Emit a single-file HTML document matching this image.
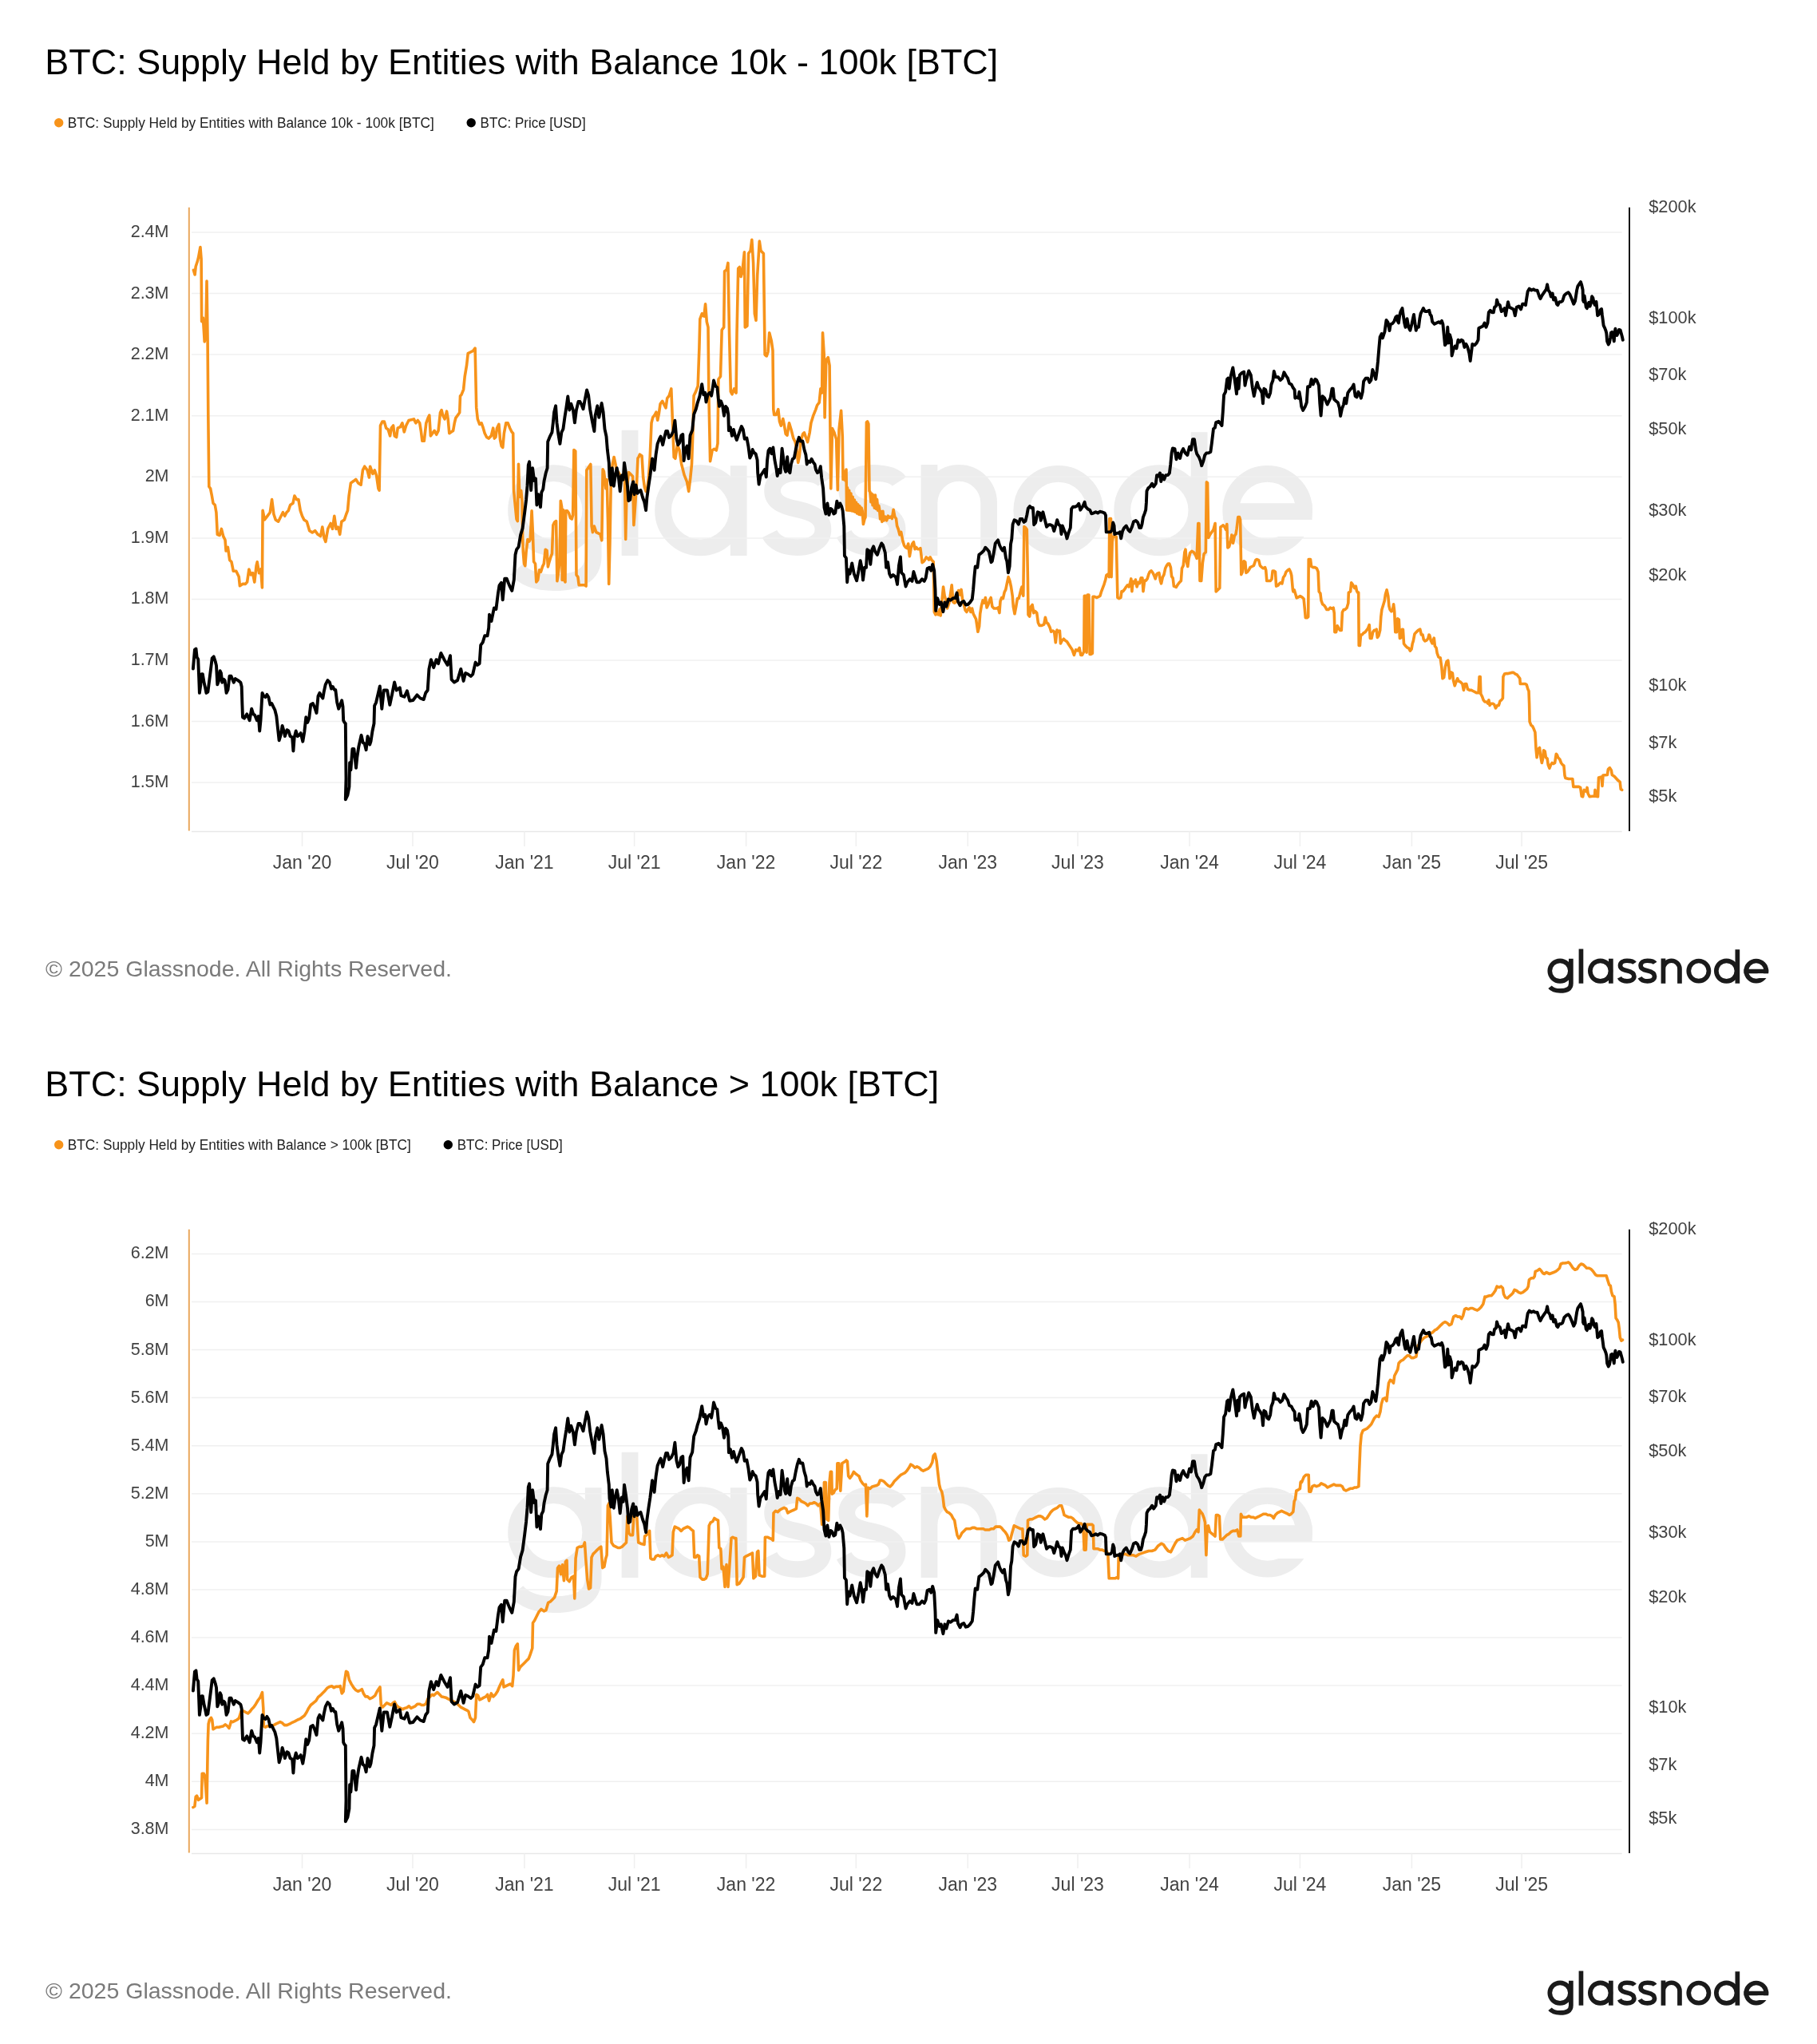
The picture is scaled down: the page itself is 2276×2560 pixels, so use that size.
<!DOCTYPE html><html><head><meta charset="utf-8"><style>
html,body{margin:0;padding:0;background:#fff;}
svg{display:block;will-change:transform;}
text{font-family:"Liberation Sans", sans-serif;}
</style></head><body>
<svg width="2276" height="2560" viewBox="0 0 2276 2560" xmlns="http://www.w3.org/2000/svg">
<defs><clipPath id="eclip" clipPathUnits="userSpaceOnUse"><path clip-rule="evenodd" d="M240,-50 H290 V20 H240 Z M263.2,-12.35 H290 V-6.6 H263.2 Z"/></clipPath><g id="logo"><g stroke-width="5.7" stroke-linecap="butt"><circle cx="15.7" cy="-15.6" r="12.8"/><path d="M29.45,-31 V0 C29.45,7 24,9.25 16,9.25 C10,9.25 5.5,7.5 3.1,4.6"/><path d="M42.05,-43.2 V0"/><circle cx="66.25" cy="-15.6" r="12.8"/><path d="M79.45,-31 V0"/><path d="M109.1,-25.5 C107.6,-27.8 104.1,-28.45 99.6,-28.45 C94.6,-28.45 91.1,-26 91.1,-22.3 C91.1,-18.5 94.6,-17 99.6,-16 C105.1,-14.8 108.5,-13.2 108.5,-9 C108.5,-5 104.6,-2.85 99.6,-2.85 C95.1,-2.85 91.6,-4.5 90.1,-7.5"/><path d="M134.7,-25.5 C133.2,-27.8 129.7,-28.45 125.2,-28.45 C120.2,-28.45 116.7,-26 116.7,-22.3 C116.7,-18.5 120.2,-17 125.2,-16 C130.7,-14.8 134.1,-13.2 134.1,-9 C134.1,-5 130.2,-2.85 125.2,-2.85 C120.7,-2.85 117.2,-4.5 115.7,-7.5"/><path d="M145.05,-31.3 V0 M145.05,-18.2 A10.25,10.25 0 0 1 165.55,-18.2 V0"/><circle cx="189.45" cy="-15.6" r="12.6"/><circle cx="224.25" cy="-15.6" r="12.8"/><path d="M237.95,-42.5 V0"/><g clip-path="url(#eclip)"><circle cx="261.45" cy="-15.6" r="12.6"/><path d="M246.1,-15.2 H276.8"/></g></g>
</g></defs>
<rect width="2276" height="2560" fill="#fff"/>
<text x="56.3" y="92.8" font-size="44.9" fill="#000" textLength="1194.0" lengthAdjust="spacingAndGlyphs">BTC: Supply Held by Entities with Balance 10k - 100k [BTC]</text>
<circle cx="73.7" cy="153.8" r="5.7" fill="#f7931a"/>
<text x="84.8" y="160" font-size="17.6" fill="#222" textLength="459" lengthAdjust="spacingAndGlyphs">BTC: Supply Held by Entities with Balance 10k - 100k [BTC]</text>
<circle cx="590.2" cy="153.8" r="5.7" fill="#000"/>
<text x="601.6" y="160" font-size="17.6" fill="#222" textLength="132" lengthAdjust="spacingAndGlyphs">BTC: Price [USD]</text>
<use href="#logo" transform="translate(636,696) scale(3.64)" fill="none" stroke="#ededed"/>
<line x1="240" x2="2031.5" y1="291.0" y2="291.0" stroke="#f0f0f0" stroke-width="1.5"/>
<text x="211.5" y="296.9" font-size="21.5" fill="#424242" text-anchor="end">2.4M</text>
<line x1="240" x2="2031.5" y1="367.6" y2="367.6" stroke="#f0f0f0" stroke-width="1.5"/>
<text x="211.5" y="373.5" font-size="21.5" fill="#424242" text-anchor="end">2.3M</text>
<line x1="240" x2="2031.5" y1="444.1" y2="444.1" stroke="#f0f0f0" stroke-width="1.5"/>
<text x="211.5" y="450.0" font-size="21.5" fill="#424242" text-anchor="end">2.2M</text>
<line x1="240" x2="2031.5" y1="520.7" y2="520.7" stroke="#f0f0f0" stroke-width="1.5"/>
<text x="211.5" y="526.6" font-size="21.5" fill="#424242" text-anchor="end">2.1M</text>
<line x1="240" x2="2031.5" y1="597.3" y2="597.3" stroke="#f0f0f0" stroke-width="1.5"/>
<text x="211.5" y="603.2" font-size="21.5" fill="#424242" text-anchor="end">2M</text>
<line x1="240" x2="2031.5" y1="673.9" y2="673.9" stroke="#f0f0f0" stroke-width="1.5"/>
<text x="211.5" y="679.8" font-size="21.5" fill="#424242" text-anchor="end">1.9M</text>
<line x1="240" x2="2031.5" y1="750.4" y2="750.4" stroke="#f0f0f0" stroke-width="1.5"/>
<text x="211.5" y="756.3" font-size="21.5" fill="#424242" text-anchor="end">1.8M</text>
<line x1="240" x2="2031.5" y1="827.0" y2="827.0" stroke="#f0f0f0" stroke-width="1.5"/>
<text x="211.5" y="832.9" font-size="21.5" fill="#424242" text-anchor="end">1.7M</text>
<line x1="240" x2="2031.5" y1="903.6" y2="903.6" stroke="#f0f0f0" stroke-width="1.5"/>
<text x="211.5" y="909.5" font-size="21.5" fill="#424242" text-anchor="end">1.6M</text>
<line x1="240" x2="2031.5" y1="980.1" y2="980.1" stroke="#f0f0f0" stroke-width="1.5"/>
<text x="211.5" y="986.0" font-size="21.5" fill="#424242" text-anchor="end">1.5M</text>
<line x1="240" x2="2031.6" y1="1041.4" y2="1041.4" stroke="#e8e8e8" stroke-width="1.5"/>
<line x1="378.5" x2="378.5" y1="1041.2" y2="1060" stroke="#efefef" stroke-width="1.5"/>
<text x="378.5" y="1087.8" font-size="23" fill="#424242" text-anchor="middle">Jan '20</text>
<line x1="517.0" x2="517.0" y1="1041.2" y2="1060" stroke="#efefef" stroke-width="1.5"/>
<text x="517.0" y="1087.8" font-size="23" fill="#424242" text-anchor="middle">Jul '20</text>
<line x1="656.9" x2="656.9" y1="1041.2" y2="1060" stroke="#efefef" stroke-width="1.5"/>
<text x="656.9" y="1087.8" font-size="23" fill="#424242" text-anchor="middle">Jan '21</text>
<line x1="794.6" x2="794.6" y1="1041.2" y2="1060" stroke="#efefef" stroke-width="1.5"/>
<text x="794.6" y="1087.8" font-size="23" fill="#424242" text-anchor="middle">Jul '21</text>
<line x1="934.6" x2="934.6" y1="1041.2" y2="1060" stroke="#efefef" stroke-width="1.5"/>
<text x="934.6" y="1087.8" font-size="23" fill="#424242" text-anchor="middle">Jan '22</text>
<line x1="1072.3" x2="1072.3" y1="1041.2" y2="1060" stroke="#efefef" stroke-width="1.5"/>
<text x="1072.3" y="1087.8" font-size="23" fill="#424242" text-anchor="middle">Jul '22</text>
<line x1="1212.3" x2="1212.3" y1="1041.2" y2="1060" stroke="#efefef" stroke-width="1.5"/>
<text x="1212.3" y="1087.8" font-size="23" fill="#424242" text-anchor="middle">Jan '23</text>
<line x1="1350.0" x2="1350.0" y1="1041.2" y2="1060" stroke="#efefef" stroke-width="1.5"/>
<text x="1350.0" y="1087.8" font-size="23" fill="#424242" text-anchor="middle">Jul '23</text>
<line x1="1490.0" x2="1490.0" y1="1041.2" y2="1060" stroke="#efefef" stroke-width="1.5"/>
<text x="1490.0" y="1087.8" font-size="23" fill="#424242" text-anchor="middle">Jan '24</text>
<line x1="1628.4" x2="1628.4" y1="1041.2" y2="1060" stroke="#efefef" stroke-width="1.5"/>
<text x="1628.4" y="1087.8" font-size="23" fill="#424242" text-anchor="middle">Jul '24</text>
<line x1="1768.4" x2="1768.4" y1="1041.2" y2="1060" stroke="#efefef" stroke-width="1.5"/>
<text x="1768.4" y="1087.8" font-size="23" fill="#424242" text-anchor="middle">Jan '25</text>
<line x1="1906.1" x2="1906.1" y1="1041.2" y2="1060" stroke="#efefef" stroke-width="1.5"/>
<text x="1906.1" y="1087.8" font-size="23" fill="#424242" text-anchor="middle">Jul '25</text>
<text x="2065.2" y="266.4" font-size="21.8" fill="#424242">$200k</text>
<text x="2065.2" y="405.0" font-size="21.8" fill="#424242">$100k</text>
<text x="2065.2" y="476.3" font-size="21.8" fill="#424242">$70k</text>
<text x="2065.2" y="543.5" font-size="21.8" fill="#424242">$50k</text>
<text x="2065.2" y="645.6" font-size="21.8" fill="#424242">$30k</text>
<text x="2065.2" y="726.7" font-size="21.8" fill="#424242">$20k</text>
<text x="2065.2" y="865.3" font-size="21.8" fill="#424242">$10k</text>
<text x="2065.2" y="936.6" font-size="21.8" fill="#424242">$7k</text>
<text x="2065.2" y="1003.8" font-size="21.8" fill="#424242">$5k</text>
<line x1="236.8" x2="236.8" y1="259.8" y2="1040.6" stroke="#e9a85c" stroke-width="2"/>
<line x1="2041" x2="2041" y1="259.7" y2="1041" stroke="#141414" stroke-width="2"/>
<path d="M242.4,338.3 L244.1,344.0 L245.2,333.7 L247.5,326.8 L248.6,322.2 L250.9,309.5 L252.1,324.5 L252.6,402.6 L254.4,398.1 L256.2,427.9 L257.8,418.7 L259.0,352.1 L260.1,427.9 L260.8,519.9 L261.8,609.5 L263.6,611.8 L265.4,621.0 L267.0,630.2 L269.3,632.5 L270.9,641.7 L272.3,669.3 L275.1,670.5 L277.4,662.4 L279.7,671.6 L282.0,676.2 L283.1,690.0 L285.4,685.4 L287.7,701.5 L290.0,703.8 L292.3,715.3 L295.8,715.3 L299.2,722.2 L300.4,733.7 L303.8,731.4 L307.3,731.4 L309.6,729.1 L311.9,713.0 L314.2,719.9 L316.5,717.6 L318.8,729.1 L321.1,708.4 L322.2,703.8 L324.5,717.6 L326.8,713.0 L328.4,736.0 L329.1,639.4 L331.4,650.9 L334.9,646.3 L338.3,641.7 L340.6,625.6 L342.9,644.0 L345.2,650.9 L348.6,653.2 L352.1,646.3 L354.4,641.7 L356.7,646.3 L359.0,641.7 L361.3,639.4 L363.6,632.5 L367.0,630.2 L368.9,621.0 L371.6,625.6 L373.9,625.6 L376.2,639.4 L378.5,646.3 L380.8,650.9 L384.3,653.2 L387.7,664.7 L391.2,667.0 L394.6,664.7 L398.1,669.3 L401.5,671.6 L403.8,660.1 L406.1,673.9 L407.9,678.5 L410.7,662.4 L414.2,655.5 L416.5,662.4 L418.8,646.3 L421.1,662.4 L423.4,660.1 L425.7,669.3 L427.9,653.2 L431.4,650.9 L433.7,644.0 L435.5,639.4 L437.1,621.0 L439.4,604.9 L442.9,602.6 L445.7,600.3 L448.6,604.9 L452.1,607.2 L454.4,588.9 L456.7,584.2 L460.1,588.9 L462.4,598.0 L463.6,584.2 L467.0,593.5 L469.3,588.9 L471.6,595.8 L473.9,611.8 L475.1,614.1 L476.5,533.0 L478.9,528.1 L481.3,528.1 L483.7,536.2 L486.1,537.8 L488.6,545.9 L490.2,536.2 L492.6,533.0 L494.2,545.9 L496.6,547.5 L498.2,536.2 L501.5,534.6 L503.9,529.8 L506.3,541.0 L508.7,533.0 L512.0,526.5 L515.2,525.7 L518.4,524.9 L520.8,529.8 L523.3,526.5 L525.7,529.8 L527.3,539.4 L528.9,552.3 L531.3,552.3 L533.8,529.8 L536.2,523.3 L537.8,520.1 L539.4,545.9 L541.8,542.7 L544.2,539.4 L546.7,544.3 L549.1,539.4 L551.5,516.8 L553.1,513.6 L554.7,520.1 L557.1,524.9 L559.6,515.2 L561.2,524.9 L562.8,542.7 L565.2,541.0 L567.6,539.4 L569.3,529.8 L570.9,523.3 L573.3,520.1 L575.7,516.8 L576.5,495.9 L578.1,494.2 L580.6,487.8 L582.2,471.6 L584.6,457.1 L586.2,442.6 L589.4,441.0 L592.7,439.4 L595.1,436.1 L596.7,510.4 L598.3,524.9 L600.7,531.4 L603.1,529.8 L604.8,534.6 L607.2,542.7 L609.6,547.5 L612.0,549.1 L615.3,545.9 L617.7,536.2 L619.3,549.1 L620.9,547.5 L622.5,536.2 L624.9,531.4 L626.5,550.7 L628.2,558.8 L629.8,560.4 L631.4,542.7 L633.8,529.8 L636.2,529.8 L638.7,536.2 L641.1,541.0 L642.7,542.7 L643.5,613.7 L647.0,650.1 L648.3,652.6 L649.5,581.4 L650.8,622.1 L652.7,614.5 L654.0,627.2 L654.6,671.7 L655.3,690.8 L656.5,706.0 L657.8,708.6 L659.1,690.8 L661.0,675.5 L662.9,678.1 L664.2,675.5 L666.1,639.9 L667.3,665.3 L668.6,703.5 L670.5,706.0 L671.8,728.9 L673.7,726.4 L675.6,713.7 L677.5,716.2 L679.4,709.9 L681.3,706.0 L683.2,688.2 L685.1,689.5 L686.4,709.9 L687.7,704.8 L689.6,698.4 L691.5,693.3 L692.8,657.7 L694.7,653.9 L696.6,652.6 L697.9,727.7 L699.1,720.0 L701.0,703.5 L702.3,627.2 L703.6,634.8 L704.2,726.4 L705.5,638.6 L706.8,726.4 L708.0,728.9 L708.7,639.9 L710.6,639.9 L712.5,642.5 L714.4,648.8 L716.3,650.1 L717.6,645.0 L718.9,563.6 L720.8,564.9 L722.0,720.0 L723.9,722.6 L725.2,732.8 L729.0,732.8 L732.2,732.8 L734.1,734.0 L734.8,589.0 L737.3,585.2 L739.8,581.4 L741.1,659.0 L742.4,666.6 L744.3,659.0 L746.8,666.6 L749.4,667.9 L751.9,669.2 L753.8,676.8 L755.1,587.8 L756.4,590.3 L757.6,600.5 L758.9,611.9 L760.2,600.5 L761.5,652.6 L762.7,731.5 L764.0,678.1 L765.3,601.8 L767.2,581.4 L769.1,572.5 L771.0,581.4 L772.3,589.0 L774.8,591.6 L777.4,596.7 L779.9,596.7 L782.5,599.2 L783.7,675.5 L785.0,614.5 L787.5,591.6 L790.1,594.1 L792.6,596.7 L793.9,657.7 L795.2,639.9 L797.7,601.8 L799.0,573.8 L800.0,572.5 L801.4,569.2 L804.0,570.9 L805.7,598.3 L807.4,610.3 L809.1,615.4 L810.8,612.0 L812.5,598.3 L814.2,572.6 L816.0,529.8 L817.7,522.9 L820.2,519.5 L822.0,516.1 L823.7,526.3 L825.4,517.8 L827.1,505.8 L829.7,502.4 L832.2,507.5 L834.0,510.9 L835.7,498.9 L838.2,495.5 L840.8,486.9 L842.5,529.8 L844.2,572.6 L845.9,574.3 L848.5,557.2 L851.1,564.0 L853.6,581.1 L857.1,594.9 L860.5,603.4 L862.7,615.4 L864.8,598.3 L866.5,581.1 L867.7,546.9 L869.1,495.5 L871.6,490.4 L874.2,483.5 L875.9,435.6 L876.8,399.6 L879.3,392.8 L881.9,396.2 L883.6,380.8 L885.3,403.0 L887.0,409.9 L887.9,495.5 L889.6,577.7 L892.2,564.0 L894.8,562.3 L897.3,564.0 L899.0,555.5 L899.9,475.0 L902.5,471.5 L904.2,413.3 L906.7,409.9 L907.6,339.7 L910.2,337.9 L911.9,329.4 L913.6,420.2 L915.3,490.4 L917.0,493.8 L919.6,486.9 L922.1,492.1 L923.0,418.4 L924.7,336.2 L926.4,334.5 L928.1,346.5 L929.9,339.7 L932.4,315.7 L933.3,409.9 L935.9,408.2 L937.6,317.4 L940.1,314.0 L941.8,300.3 L943.6,329.4 L945.3,392.8 L947.0,401.3 L948.7,344.8 L951.3,302.0 L953.0,314.0 L956.4,317.4 L958.1,444.1 L960.0,445.9 L960.3,445.9 L962.0,440.7 L963.7,416.7 L966.3,427.0 L968.0,439.0 L968.8,512.6 L969.7,519.5 L972.3,519.5 L974.8,512.6 L976.5,528.0 L978.3,533.2 L980.8,524.6 L982.5,533.2 L984.2,543.5 L986.0,545.2 L988.5,529.8 L991.1,538.3 L993.7,548.6 L996.2,553.7 L998.0,564.0 L999.7,579.4 L1001.4,570.9 L1003.1,552.0 L1005.7,543.5 L1007.4,541.8 L1009.1,546.9 L1011.6,553.7 L1014.2,541.8 L1015.9,529.8 L1018.5,521.2 L1021.9,512.6 L1023.6,507.5 L1026.2,504.1 L1027.9,486.9 L1029.6,492.1 L1030.5,416.7 L1032.2,444.1 L1033.1,522.9 L1034.8,451.0 L1037.3,447.6 L1039.1,457.8 L1039.9,534.9 L1040.8,612.0 L1042.5,536.6 L1045.0,541.8 L1047.6,550.3 L1049.3,613.7 L1051.0,538.3 L1053.6,514.4 L1055.3,546.9 L1056.0,600.5 L1057.0,590.0 L1059.0,602.0 L1060.0,588.0 L1060.6,639.0 L1061.5,610.8 L1062.6,639.2 L1063.7,614.4 L1064.8,639.5 L1065.9,618.0 L1067.0,639.9 L1068.1,622.2 L1069.2,640.4 L1070.3,626.1 L1071.4,641.3 L1072.5,629.3 L1073.6,643.0 L1074.7,631.7 L1075.8,644.2 L1076.9,633.9 L1078.0,644.8 L1079.1,636.0 L1080.2,640.0 L1081.4,656.5 L1083.0,650.0 L1084.0,648.0 L1085.4,529.0 L1086.6,528.0 L1087.9,531.0 L1089.0,615.0 L1089.8,615.9 L1090.9,628.8 L1092.0,618.3 L1093.1,632.8 L1094.2,620.0 L1095.3,636.2 L1096.4,620.0 L1097.5,637.4 L1098.6,625.6 L1099.7,639.4 L1100.8,633.3 L1101.5,636.8 L1102.6,650.0 L1103.7,640.5 L1104.8,653.4 L1105.9,640.4 L1107.0,652.0 L1109.0,647.2 L1110.7,651.8 L1112.4,646.1 L1114.1,648.4 L1115.8,647.2 L1117.4,649.5 L1119.1,638.2 L1120.8,647.2 L1122.5,649.5 L1123.6,658.5 L1125.3,663.0 L1127.0,669.8 L1128.7,666.4 L1129.8,672.0 L1130.9,677.6 L1132.6,683.2 L1134.3,685.5 L1136.0,686.6 L1137.7,681.0 L1139.4,696.8 L1141.1,686.6 L1142.8,681.0 L1144.4,678.8 L1146.1,687.8 L1147.8,685.5 L1149.5,687.8 L1151.2,687.8 L1152.9,686.6 L1154.0,695.6 L1155.1,704.6 L1156.8,703.5 L1158.5,701.2 L1160.2,697.9 L1161.9,699.0 L1163.6,701.2 L1165.2,697.9 L1166.9,701.2 L1168.1,702.4 L1169.2,703.5 L1170.3,766.5 L1172.0,769.9 L1173.7,766.5 L1175.4,769.9 L1177.1,763.1 L1178.2,771.0 L1179.9,753.0 L1181.6,735.0 L1183.2,746.2 L1184.9,751.9 L1186.6,762.0 L1188.9,755.2 L1190.6,744.0 L1192.2,732.8 L1193.9,754.1 L1195.6,755.2 L1197.3,754.1 L1199.0,744.0 L1200.7,739.5 L1202.4,745.1 L1204.1,738.4 L1205.8,751.9 L1207.4,757.5 L1209.1,764.2 L1210.8,766.5 L1212.5,763.1 L1214.2,760.9 L1215.9,766.5 L1217.6,762.0 L1219.2,768.8 L1220.9,772.1 L1222.6,775.5 L1224.9,791.2 L1226.6,784.5 L1227.7,768.8 L1229.4,758.6 L1231.1,751.9 L1232.8,755.2 L1234.4,748.5 L1236.1,760.9 L1237.8,757.5 L1239.5,751.9 L1241.2,748.5 L1242.9,759.8 L1245.1,762.0 L1246.8,762.0 L1248.5,762.0 L1250.2,760.9 L1251.9,767.6 L1253.0,753.0 L1254.7,748.5 L1256.4,749.6 L1258.1,741.8 L1259.8,738.4 L1261.4,730.5 L1263.1,722.6 L1264.8,727.1 L1266.5,735.0 L1268.2,746.2 L1269.3,759.8 L1271.0,768.8 L1272.7,759.8 L1274.4,749.6 L1276.1,749.6 L1277.8,742.9 L1278.9,738.4 L1280.0,735.0 L1280.1,740.6 L1281.8,746.2 L1282.9,659.6 L1284.6,660.8 L1286.3,663.0 L1287.4,723.8 L1288.0,769.9 L1289.7,772.1 L1291.4,759.8 L1293.1,757.5 L1294.8,767.6 L1296.4,765.4 L1298.7,767.6 L1300.4,780.0 L1302.1,783.4 L1304.9,783.4 L1307.7,782.2 L1309.4,773.2 L1311.1,780.0 L1312.8,781.1 L1315.0,785.6 L1316.7,791.2 L1318.9,790.1 L1320.6,791.2 L1322.3,804.8 L1324.0,789.0 L1325.7,791.2 L1327.4,790.1 L1328.5,805.9 L1330.2,802.5 L1332.4,800.2 L1334.7,802.5 L1336.4,803.6 L1338.6,807.0 L1340.9,810.4 L1343.1,813.8 L1345.4,820.5 L1347.6,813.8 L1349.9,814.9 L1352.1,811.5 L1353.8,820.5 L1355.5,820.5 L1357.8,816.0 L1358.3,746.2 L1360.0,746.2 L1361.1,817.1 L1362.2,745.1 L1363.9,745.1 L1365.1,819.4 L1366.8,819.4 L1368.4,818.2 L1369.0,747.4 L1371.2,747.4 L1373.5,748.5 L1376.3,747.4 L1378.0,746.2 L1379.7,740.6 L1381.4,736.1 L1383.1,731.6 L1384.8,726.0 L1385.9,720.4 L1387.6,719.2 L1389.2,722.6 L1389.8,649.5 L1391.5,649.5 L1392.1,722.6 L1393.2,678.8 L1394.3,672.0 L1396.0,672.0 L1398.2,672.0 L1399.9,748.5 L1401.6,749.6 L1403.9,748.5 L1405.0,740.6 L1406.7,740.6 L1408.4,738.4 L1410.6,735.0 L1412.3,732.8 L1414.0,735.0 L1415.7,729.4 L1416.8,724.9 L1417.9,740.6 L1419.1,728.2 L1420.8,730.5 L1422.4,726.0 L1424.1,735.0 L1425.8,729.4 L1427.5,730.5 L1429.2,723.8 L1430.9,723.8 L1432.0,740.6 L1433.7,727.1 L1435.4,727.1 L1437.1,724.9 L1438.8,719.2 L1440.4,715.9 L1442.1,714.8 L1443.8,717.0 L1445.5,720.4 L1447.2,724.9 L1448.9,719.2 L1450.0,718.1 L1450.1,718.5 L1451.8,717.4 L1453.5,727.5 L1454.6,730.9 L1456.3,723.0 L1458.0,719.6 L1459.7,711.8 L1461.4,708.4 L1463.1,706.1 L1464.8,706.1 L1466.4,710.6 L1467.6,721.9 L1469.2,724.1 L1470.4,734.2 L1473.2,735.4 L1475.4,732.0 L1477.1,729.8 L1479.4,727.5 L1480.5,711.8 L1482.2,708.4 L1483.9,691.5 L1485.0,688.1 L1486.1,702.8 L1487.8,709.5 L1488.9,700.5 L1490.6,692.6 L1492.9,690.4 L1495.1,691.5 L1497.4,694.9 L1499.1,699.4 L1500.8,655.5 L1501.9,655.5 L1503.0,727.5 L1504.7,727.5 L1506.4,705.0 L1508.1,693.8 L1510.3,691.5 L1511.4,603.8 L1512.6,604.9 L1513.7,673.5 L1515.4,670.1 L1517.6,666.8 L1519.9,663.4 L1522.1,655.5 L1523.2,741.0 L1525.5,738.8 L1527.8,736.5 L1528.9,660.0 L1530.6,658.9 L1532.2,657.8 L1533.9,660.0 L1535.6,663.4 L1536.8,656.6 L1537.9,685.9 L1539.6,684.8 L1541.2,679.1 L1542.9,670.1 L1544.6,680.2 L1546.3,671.2 L1548.0,669.0 L1549.1,662.2 L1550.8,647.6 L1552.5,647.6 L1553.6,651.0 L1554.8,719.6 L1556.4,716.2 L1558.1,702.8 L1559.8,703.9 L1560.9,717.4 L1562.6,716.2 L1564.3,714.0 L1566.0,710.6 L1568.2,709.5 L1570.5,708.4 L1572.8,701.6 L1574.4,700.5 L1576.7,701.6 L1578.4,708.4 L1580.6,710.6 L1582.3,711.8 L1584.6,710.6 L1585.7,714.0 L1586.8,727.5 L1589.1,727.5 L1591.3,727.5 L1593.0,725.2 L1594.1,715.1 L1595.8,715.1 L1597.5,716.2 L1598.6,734.2 L1600.9,733.1 L1602.6,730.9 L1604.2,729.8 L1605.9,730.9 L1607.6,723.0 L1609.3,720.8 L1611.0,716.2 L1613.2,714.0 L1614.9,712.9 L1616.6,716.2 L1617.8,720.8 L1619.4,738.8 L1620.0,741.0 L1621.2,738.8 L1622.9,744.4 L1624.1,748.9 L1626.3,747.8 L1628.6,746.6 L1630.8,747.8 L1633.1,750.0 L1634.2,761.2 L1635.3,773.6 L1637.6,773.6 L1638.7,772.5 L1639.2,700.5 L1641.5,700.5 L1642.6,709.5 L1644.9,710.6 L1647.1,710.6 L1649.4,711.8 L1651.1,716.2 L1652.2,741.0 L1653.9,743.2 L1655.0,752.2 L1656.7,756.8 L1658.4,757.9 L1660.1,760.1 L1661.8,763.5 L1664.0,763.5 L1666.2,761.2 L1668.5,762.4 L1670.2,761.2 L1671.3,768.0 L1671.9,791.6 L1673.6,791.6 L1675.2,783.8 L1676.9,787.1 L1678.6,789.4 L1680.3,789.4 L1681.4,766.9 L1683.1,763.5 L1684.8,763.5 L1687.1,761.2 L1688.8,755.6 L1689.3,742.1 L1691.6,741.0 L1692.7,729.8 L1694.4,732.0 L1696.6,736.5 L1698.3,734.2 L1699.4,739.9 L1700.6,742.1 L1701.7,742.1 L1702.2,808.5 L1703.4,808.5 L1704.5,795.0 L1706.2,795.0 L1707.9,792.8 L1710.1,791.6 L1711.8,789.4 L1713.5,787.1 L1715.2,782.6 L1716.3,799.5 L1718.0,799.5 L1719.7,791.6 L1721.4,789.4 L1723.1,789.4 L1724.2,788.2 L1725.3,798.4 L1727.0,796.1 L1728.7,789.4 L1729.8,772.5 L1730.9,763.5 L1732.6,757.9 L1734.3,752.2 L1735.4,744.4 L1737.1,738.8 L1738.8,746.6 L1739.9,759.0 L1741.1,763.5 L1742.8,765.8 L1744.4,764.6 L1745.6,756.8 L1746.7,765.8 L1747.8,791.6 L1749.5,791.6 L1750.6,774.8 L1752.3,775.9 L1753.4,799.5 L1755.1,798.4 L1756.2,788.2 L1757.4,788.2 L1758.5,806.2 L1760.2,808.5 L1762.4,810.8 L1764.7,811.9 L1766.4,815.2 L1768.1,813.0 L1769.2,806.2 L1770.3,802.9 L1772.0,793.9 L1774.2,791.6 L1776.5,789.4 L1778.8,788.2 L1780.4,795.0 L1782.1,795.0 L1783.2,800.6 L1784.9,802.9 L1787.2,801.8 L1788.9,799.5 L1790.0,795.0 L1790.7,795.8 L1792.4,802.5 L1794.1,805.9 L1796.3,799.1 L1797.4,809.2 L1799.1,811.5 L1800.2,818.2 L1801.9,822.8 L1804.2,823.9 L1805.9,836.2 L1807.0,849.8 L1808.7,848.6 L1810.4,835.1 L1812.1,828.4 L1813.8,827.2 L1814.9,836.2 L1816.0,849.8 L1817.7,841.9 L1819.4,843.0 L1820.5,852.0 L1822.2,858.8 L1823.9,854.2 L1825.6,849.8 L1827.2,853.1 L1829.5,854.2 L1831.8,856.5 L1833.4,864.4 L1835.1,856.5 L1836.8,856.5 L1838.5,863.2 L1840.8,864.4 L1843.0,864.4 L1845.2,865.5 L1847.5,866.6 L1849.8,867.8 L1852.0,867.8 L1853.1,847.5 L1854.2,847.5 L1854.8,868.9 L1856.5,872.2 L1858.2,876.8 L1859.9,879.0 L1862.1,879.0 L1863.8,881.2 L1864.9,876.8 L1866.1,883.5 L1867.8,881.2 L1870.0,881.2 L1871.7,882.4 L1873.4,886.9 L1875.6,883.5 L1877.3,883.5 L1879.0,877.9 L1880.7,876.8 L1882.4,874.5 L1882.9,847.5 L1884.6,844.1 L1886.9,843.6 L1889.1,843.6 L1891.4,843.0 L1893.6,842.4 L1895.9,842.4 L1898.1,844.1 L1900.4,845.2 L1902.1,847.5 L1903.8,849.8 L1904.3,856.5 L1906.0,856.5 L1908.2,856.5 L1910.5,856.5 L1912.2,857.6 L1913.9,863.2 L1915.0,865.5 L1915.6,881.2 L1916.1,903.8 L1917.8,908.2 L1919.5,909.4 L1921.2,912.8 L1922.9,917.2 L1924.0,937.5 L1925.1,948.8 L1926.2,939.8 L1927.4,937.5 L1928.5,936.4 L1929.6,946.5 L1931.3,955.5 L1932.4,951.0 L1933.6,939.8 L1935.2,940.9 L1936.4,948.8 L1938.1,949.9 L1939.2,957.8 L1940.9,962.2 L1942.6,957.8 L1944.2,955.5 L1945.9,956.6 L1947.6,955.5 L1949.3,944.2 L1950.4,945.4 L1951.6,948.8 L1953.8,951.0 L1955.5,955.5 L1957.2,957.8 L1958.9,958.9 L1960.0,971.2 L1960.9,974.5 L1964.9,975.5 L1969.8,975.5 L1970.8,985.4 L1977.7,985.4 L1979.7,986.4 L1981.2,997.3 L1982.7,997.8 L1984.2,989.3 L1987.2,991.3 L1988.1,986.4 L1989.1,993.8 L1991.1,997.8 L1994.6,997.3 L1997.5,997.3 L1998.0,989.3 L1999.0,997.3 L2001.5,997.8 L2002.5,974.0 L2006.0,973.0 L2007.0,984.4 L2008.0,971.0 L2013.4,970.5 L2014.4,963.6 L2016.4,961.6 L2018.3,964.6 L2019.3,970.5 L2022.3,972.5 L2026.3,977.0 L2029.2,979.4 L2030.2,988.4 L2031.7,989.3" fill="none" stroke="#f7931a" stroke-width="3.6" stroke-linejoin="round" stroke-linecap="round"/>
<path d="M241.9,837.5 L243.9,813.8 L245.5,812.5 L246.6,823.0 L248.2,825.7 L249.2,849.4 L249.9,867.9 L251.2,858.7 L252.5,844.1 L253.8,844.1 L255.8,856.0 L257.1,861.3 L258.4,867.9 L260.4,866.6 L262.4,850.8 L264.4,834.9 L265.7,824.3 L267.7,822.4 L269.7,828.3 L271.0,833.6 L272.3,857.4 L274.3,852.1 L275.6,840.2 L276.9,842.8 L278.3,854.7 L280.2,850.8 L281.6,852.1 L283.6,867.9 L285.5,864.0 L287.5,846.8 L289.5,846.8 L292.8,854.7 L294.8,850.1 L298.1,852.1 L301.4,854.7 L302.7,860.0 L303.4,882.5 L304.0,898.3 L306.0,899.6 L309.3,894.4 L312.6,902.3 L315.2,887.7 L317.2,894.4 L319.2,895.7 L321.9,902.3 L323.8,897.0 L325.2,915.5 L326.5,902.3 L328.5,867.9 L330.4,871.9 L332.4,873.2 L334.4,869.9 L336.4,873.2 L338.4,882.5 L340.4,881.1 L342.3,885.1 L344.3,889.1 L346.3,897.0 L347.6,908.9 L349.6,927.4 L351.6,920.8 L353.6,908.9 L355.5,915.5 L356.9,922.1 L359.5,914.2 L361.5,915.5 L363.5,922.1 L366.1,923.4 L367.4,940.6 L368.7,923.4 L370.7,915.5 L372.7,922.1 L374.7,920.8 L376.7,918.1 L379.3,928.7 L381.3,916.8 L383.3,898.3 L385.2,904.9 L387.2,899.6 L389.2,882.5 L391.9,881.1 L393.8,885.1 L396.5,893.0 L398.5,871.9 L400.4,867.9 L402.4,871.9 L404.4,874.5 L405.7,866.6 L407.7,857.4 L410.4,852.1 L413.0,854.7 L415.0,862.6 L416.9,860.0 L418.9,864.0 L420.3,864.0 L422.2,879.8 L424.2,887.7 L426.2,882.5 L428.2,877.2 L429.5,885.1 L430.2,902.3 L431.5,904.9 L432.8,906.2 L433.1,935.3 L433.5,974.9 L432.8,1001.3 L434.1,998.7 L435.4,996.0 L437.4,985.5 L438.1,955.1 L439.4,964.4 L441.4,937.9 L443.4,937.9 L446.0,961.7 L447.3,948.5 L449.3,935.3 L452.6,920.8 L454.6,930.0 L456.6,931.3 L458.6,939.2 L460.5,922.1 L463.2,932.6 L464.5,928.7 L466.5,915.5 L468.5,906.2 L469.1,883.8 L471.1,879.8 L475.8,859.5 L478.3,887.8 L480.8,864.5 L485.0,864.5 L488.3,882.8 L490.8,871.1 L494.1,854.5 L496.6,864.5 L500.8,861.2 L502.4,871.1 L506.6,872.8 L509.9,865.3 L513.2,877.8 L517.4,877.0 L522.4,870.3 L526.5,874.5 L530.7,876.1 L533.2,867.8 L535.7,864.5 L537.4,837.9 L539.9,826.2 L543.2,836.2 L546.5,826.2 L549.0,831.2 L552.3,817.9 L556.5,826.2 L560.6,832.9 L564.0,821.2 L565.6,851.2 L569.0,854.5 L573.1,852.0 L577.3,837.9 L580.6,852.9 L583.1,842.9 L586.4,844.5 L589.8,847.0 L592.2,844.5 L595.6,829.6 L598.1,832.9 L600.6,831.2 L602.2,807.9 L604.7,804.6 L607.2,796.3 L610.5,796.3 L612.2,786.3 L613.0,769.7 L615.5,778.0 L618.9,761.4 L621.4,763.0 L623.9,743.1 L625.5,733.1 L628.0,729.8 L629.7,751.4 L632.2,724.8 L634.7,724.8 L638.0,733.1 L641.3,739.8 L643.8,726.4 L645.5,694.8 L647.1,688.2 L649.6,684.9 L652.1,669.9 L654.6,661.6 L657.2,641.7 L659.1,625.9 L660.5,608.7 L661.8,582.3 L663.1,578.3 L665.1,614.0 L667.1,586.2 L669.1,602.1 L671.0,599.4 L672.4,632.5 L674.3,619.2 L677.0,635.1 L678.3,616.6 L680.3,612.6 L681.6,602.1 L683.6,592.8 L685.6,586.2 L686.2,553.2 L688.9,546.6 L691.5,541.3 L692.8,529.4 L694.1,516.2 L696.1,508.3 L697.5,529.4 L699.4,544.0 L701.4,555.9 L703.4,541.3 L705.4,537.4 L707.4,522.8 L709.3,510.9 L711.3,496.4 L713.3,513.6 L715.3,505.7 L717.9,513.6 L719.9,529.4 L721.9,513.6 L724.5,503.0 L726.5,503.0 L728.5,507.0 L730.5,512.3 L732.5,501.7 L735.1,488.5 L737.1,495.1 L739.1,512.3 L741.7,526.8 L744.4,540.0 L745.7,520.2 L748.3,508.3 L750.3,522.8 L752.3,512.3 L753.6,505.0 L755.6,516.2 L757.5,537.4 L759.5,546.6 L760.9,563.8 L762.8,579.6 L763.5,596.8 L765.5,607.4 L766.8,586.2 L768.8,608.7 L770.8,595.5 L772.7,586.2 L774.7,596.8 L776.7,615.3 L778.7,595.5 L780.7,600.8 L782.0,579.6 L784.0,592.8 L786.0,608.7 L787.3,627.2 L789.2,625.9 L791.2,610.0 L793.2,603.4 L794.5,619.2 L796.5,607.4 L798.5,617.9 L800.5,615.3 L802.5,614.0 L805.1,623.2 L807.1,628.5 L809.1,639.1 L810.4,623.2 L812.4,608.7 L814.4,595.5 L817.0,574.4 L819.6,588.9 L821.6,569.1 L823.6,555.9 L826.2,549.2 L827.6,546.6 L830.2,557.2 L832.2,547.9 L834.2,540.0 L836.1,540.0 L838.1,547.9 L840.8,545.3 L843.4,540.0 L845.4,526.8 L847.4,549.2 L849.4,557.2 L851.3,554.5 L853.3,545.3 L855.3,544.0 L856.6,577.0 L858.6,562.5 L860.6,558.5 L862.6,574.4 L864.5,545.3 L867.2,538.7 L869.2,518.9 L871.8,512.3 L873.8,504.3 L876.4,496.4 L879.2,481.1 L881.2,494.3 L883.2,491.7 L884.5,503.6 L886.5,494.3 L889.1,491.7 L891.1,495.7 L892.5,487.7 L894.0,476.5 L896.4,483.8 L898.4,485.1 L899.7,498.3 L901.0,508.9 L903.0,502.3 L905.0,507.6 L907.0,520.8 L909.0,508.9 L911.0,511.5 L912.3,519.4 L912.9,539.2 L914.9,535.3 L916.9,545.9 L918.9,537.9 L920.9,545.9 L922.8,551.1 L925.5,543.2 L928.8,534.0 L930.8,537.9 L932.7,549.8 L935.4,548.5 L937.4,559.1 L939.3,573.6 L941.3,569.6 L942.6,563.0 L944.6,567.0 L946.6,568.3 L948.6,576.2 L949.2,592.1 L950.6,606.6 L952.5,596.0 L955.2,592.1 L957.8,588.1 L959.8,597.4 L961.1,576.2 L962.5,564.4 L964.4,561.7 L966.4,568.3 L968.4,560.4 L970.4,576.2 L972.4,586.8 L973.7,596.0 L975.7,588.1 L977.6,592.1 L979.6,561.7 L981.0,572.3 L982.9,586.8 L984.2,590.8 L986.2,572.3 L987.5,589.4 L989.5,592.1 L990.9,581.5 L992.8,574.9 L994.8,573.6 L996.8,563.0 L998.8,553.8 L1000.8,547.8 L1002.7,552.5 L1005.4,552.5 L1007.4,563.0 L1009.4,569.6 L1010.7,581.5 L1012.6,577.5 L1014.6,578.9 L1016.6,574.9 L1018.6,578.9 L1020.6,581.5 L1021.9,588.1 L1023.9,592.1 L1025.9,590.8 L1027.8,584.2 L1029.2,598.7 L1031.1,611.9 L1032.5,635.7 L1034.4,643.6 L1036.4,630.4 L1038.4,644.9 L1040.4,637.0 L1042.4,638.3 L1044.3,643.6 L1046.3,642.3 L1048.3,627.8 L1050.3,635.7 L1052.3,630.4 L1054.3,634.4 L1055.6,639.6 L1057.3,659.2 L1057.9,696.2 L1059.9,698.9 L1061.2,729.2 L1062.5,713.4 L1064.5,718.7 L1067.2,705.5 L1069.8,718.7 L1073.1,727.3 L1075.8,713.4 L1077.7,702.2 L1079.7,712.1 L1081.0,726.6 L1083.0,710.8 L1085.0,710.8 L1086.3,688.3 L1088.3,689.6 L1090.3,706.8 L1092.3,688.3 L1094.2,684.4 L1096.2,691.0 L1098.9,694.9 L1101.5,687.0 L1104.2,680.4 L1106.1,683.0 L1108.8,692.3 L1110.1,710.8 L1112.1,704.2 L1114.1,718.7 L1116.0,722.6 L1118.7,720.0 L1122.0,722.6 L1124.0,731.9 L1126.0,708.1 L1127.9,697.5 L1129.2,717.4 L1131.9,720.0 L1134.5,734.5 L1136.5,729.2 L1139.8,725.3 L1142.5,727.9 L1144.4,716.0 L1146.4,722.6 L1148.4,729.2 L1151.7,729.2 L1155.0,725.3 L1157.7,727.9 L1159.6,724.0 L1161.6,712.1 L1164.2,710.8 L1166.2,714.7 L1168.2,706.8 L1170.2,714.7 L1171.5,738.5 L1172.2,764.9 L1174.2,749.1 L1176.8,757.0 L1178.8,754.4 L1181.4,766.2 L1183.4,754.4 L1185.4,759.6 L1188.0,750.4 L1190.7,751.7 L1194.0,749.1 L1196.6,749.1 L1198.6,742.5 L1199.9,753.0 L1202.6,758.3 L1204.5,754.4 L1207.2,753.0 L1209.8,757.6 L1212.5,757.0 L1215.1,754.4 L1217.8,750.4 L1219.1,738.5 L1220.4,722.6 L1221.7,709.4 L1224.3,710.8 L1226.3,694.9 L1229.6,692.3 L1232.3,689.6 L1234.3,685.7 L1236.9,688.3 L1238.9,691.0 L1241.5,704.2 L1242.8,702.8 L1244.8,692.3 L1246.8,680.4 L1250.1,676.4 L1252.1,683.0 L1254.1,687.0 L1256.0,689.6 L1258.0,685.7 L1260.0,698.9 L1261.3,702.8 L1262.9,717.4 L1264.6,709.4 L1266.0,681.7 L1267.3,675.1 L1268.6,656.6 L1270.6,651.3 L1273.2,652.6 L1275.9,656.6 L1277.8,650.0 L1280.5,650.0 L1282.5,654.0 L1284.5,652.6 L1286.4,644.7 L1287.8,636.8 L1290.0,634.1 L1291.9,636.0 L1293.9,636.0 L1295.2,657.2 L1297.2,654.5 L1299.8,641.3 L1302.5,642.6 L1303.8,651.9 L1306.4,641.3 L1308.4,649.2 L1311.0,659.8 L1313.7,657.2 L1315.7,657.2 L1318.3,658.5 L1320.3,665.1 L1322.3,658.5 L1324.2,651.2 L1326.2,657.2 L1328.2,658.5 L1329.5,669.1 L1330.8,658.5 L1332.8,663.8 L1334.8,667.8 L1336.5,674.4 L1338.8,666.4 L1340.8,661.1 L1342.1,637.4 L1344.1,634.7 L1346.7,634.7 L1349.3,633.4 L1351.3,630.8 L1353.3,638.7 L1356.0,634.7 L1358.6,628.8 L1359.9,634.7 L1362.5,637.4 L1365.2,638.7 L1367.2,643.3 L1369.8,642.6 L1372.5,641.3 L1375.1,642.6 L1377.7,640.7 L1380.4,641.3 L1383.7,642.6 L1385.0,645.3 L1385.7,666.4 L1388.3,666.4 L1391.0,666.4 L1392.9,663.8 L1394.2,654.5 L1395.6,658.5 L1396.2,669.1 L1398.9,667.8 L1400.9,667.8 L1402.8,666.4 L1404.2,674.4 L1406.1,665.1 L1408.1,661.1 L1410.8,658.5 L1413.4,663.8 L1415.4,665.8 L1418.0,659.8 L1420.0,653.2 L1422.7,651.9 L1425.3,654.5 L1427.3,661.1 L1429.2,661.1 L1430.6,655.9 L1431.9,647.9 L1433.9,642.6 L1435.2,638.7 L1435.9,629.4 L1436.5,614.9 L1438.5,611.0 L1440.5,609.6 L1443.1,605.7 L1445.1,609.6 L1447.8,605.7 L1449.1,595.1 L1451.0,596.4 L1453.0,592.5 L1454.3,603.0 L1456.3,595.1 L1458.3,600.4 L1460.3,595.1 L1462.9,595.1 L1464.9,592.5 L1466.2,581.9 L1467.6,567.4 L1468.9,561.4 L1471.5,562.1 L1473.5,575.3 L1475.5,567.4 L1478.1,574.0 L1480.1,566.0 L1482.1,562.1 L1484.7,567.4 L1487.4,570.0 L1490.0,559.4 L1492.0,563.4 L1494.0,550.2 L1496.0,550.2 L1497.9,563.4 L1499.3,568.7 L1501.9,572.6 L1503.9,577.9 L1505.2,583.2 L1507.2,577.9 L1509.2,570.0 L1511.2,567.4 L1513.8,567.4 L1516.4,566.0 L1517.8,555.5 L1520.0,537.0 L1521.9,535.7 L1523.2,529.1 L1526.5,527.8 L1528.5,530.4 L1530.5,533.0 L1531.8,515.9 L1533.1,494.7 L1535.1,490.8 L1537.1,474.9 L1538.4,473.6 L1539.7,486.8 L1541.7,470.9 L1544.3,460.4 L1546.3,473.6 L1547.6,482.8 L1549.0,493.4 L1550.3,473.6 L1551.6,486.8 L1552.9,469.6 L1555.6,467.0 L1558.2,465.7 L1559.5,482.8 L1560.8,476.2 L1562.2,472.3 L1564.2,464.4 L1566.8,469.6 L1568.8,485.5 L1570.8,496.1 L1572.7,486.8 L1574.7,478.9 L1576.7,485.5 L1578.7,488.1 L1580.7,492.1 L1582.0,505.3 L1583.3,486.8 L1585.3,488.1 L1587.3,496.1 L1589.2,497.4 L1591.2,492.1 L1592.5,481.5 L1594.5,476.2 L1595.8,465.0 L1597.8,472.3 L1601.1,472.3 L1603.8,476.2 L1606.4,473.6 L1608.4,466.3 L1611.0,470.9 L1613.0,473.6 L1615.0,480.2 L1617.7,481.5 L1619.6,485.5 L1621.6,488.1 L1622.3,498.7 L1624.2,497.4 L1626.2,498.7 L1627.5,490.8 L1628.9,498.7 L1630.2,509.2 L1632.2,513.9 L1634.8,509.2 L1636.8,504.0 L1638.1,484.2 L1640.8,484.2 L1642.7,474.9 L1644.7,481.5 L1647.4,474.9 L1649.3,476.2 L1652.0,482.8 L1653.3,505.3 L1654.6,520.5 L1656.6,496.1 L1659.2,498.7 L1662.6,506.6 L1664.5,502.6 L1666.5,498.7 L1668.5,486.8 L1669.8,486.8 L1671.1,500.0 L1673.8,502.6 L1675.8,504.0 L1677.8,510.6 L1679.1,521.1 L1681.0,511.9 L1683.0,506.6 L1684.3,498.7 L1686.3,505.3 L1688.3,492.1 L1691.0,488.1 L1693.6,485.5 L1695.6,481.5 L1697.6,496.1 L1699.5,497.4 L1701.5,490.8 L1703.5,494.7 L1704.8,498.7 L1706.8,490.8 L1708.1,477.6 L1710.8,473.6 L1713.4,473.6 L1715.4,478.9 L1717.4,476.2 L1719.3,463.0 L1721.3,468.3 L1723.3,474.9 L1724.6,465.7 L1726.0,452.5 L1727.3,436.6 L1728.6,422.1 L1730.6,418.1 L1731.9,423.4 L1734.5,415.5 L1736.5,400.9 L1738.5,403.6 L1740.5,414.1 L1741.8,406.2 L1744.5,404.9 L1746.4,402.3 L1748.4,397.0 L1750.0,395.7 L1750.6,401.9 L1751.9,404.5 L1753.2,395.3 L1754.5,390.0 L1756.5,386.0 L1757.8,395.3 L1759.2,404.5 L1760.5,409.8 L1762.5,399.2 L1764.4,409.8 L1766.4,413.8 L1768.4,405.9 L1771.0,394.0 L1772.4,404.5 L1773.7,413.8 L1775.0,409.8 L1777.0,409.8 L1778.3,399.2 L1779.6,392.6 L1781.6,388.7 L1782.9,386.0 L1784.9,390.0 L1787.5,390.0 L1790.2,388.7 L1791.5,394.0 L1792.8,395.3 L1794.2,403.2 L1796.8,405.9 L1799.4,404.5 L1802.1,403.2 L1804.1,404.5 L1806.0,401.9 L1807.4,405.9 L1808.7,419.1 L1810.0,432.3 L1812.0,429.6 L1813.3,409.8 L1814.6,429.6 L1816.0,419.1 L1817.9,425.7 L1818.6,445.5 L1820.6,437.6 L1822.5,433.6 L1824.5,436.2 L1826.5,425.7 L1828.5,428.3 L1830.5,425.7 L1832.5,427.0 L1834.4,434.9 L1836.4,430.9 L1838.4,434.9 L1840.4,442.8 L1841.7,452.1 L1843.0,441.5 L1844.3,430.9 L1847.0,432.3 L1849.6,429.6 L1851.6,425.7 L1852.3,411.1 L1854.9,409.8 L1857.5,408.5 L1859.5,404.5 L1861.5,409.8 L1863.5,404.5 L1864.8,391.3 L1866.8,388.7 L1868.8,391.3 L1870.8,391.3 L1872.1,384.7 L1874.1,383.4 L1875.0,375.5 L1876.7,380.8 L1878.7,382.1 L1880.7,390.0 L1882.7,388.7 L1884.6,386.0 L1886.0,395.3 L1887.3,387.4 L1889.0,378.1 L1890.6,384.7 L1893.2,386.0 L1895.9,387.4 L1897.8,395.3 L1899.8,384.7 L1902.5,383.4 L1905.1,387.4 L1907.1,380.8 L1909.1,380.8 L1911.0,382.1 L1912.4,372.8 L1913.7,364.9 L1915.7,361.6 L1918.3,363.6 L1921.0,362.3 L1922.9,363.6 L1925.6,363.6 L1928.2,371.5 L1929.5,374.1 L1931.5,370.2 L1934.2,366.2 L1936.8,362.3 L1938.1,356.3 L1939.5,363.6 L1941.4,366.2 L1942.8,371.5 L1944.7,367.6 L1946.0,375.5 L1948.0,372.8 L1950.0,380.8 L1951.3,382.1 L1953.3,378.1 L1955.3,378.1 L1957.3,376.8 L1959.3,370.2 L1961.9,367.6 L1964.5,366.2 L1966.5,368.9 L1969.2,375.5 L1971.2,380.8 L1973.1,376.8 L1975.1,363.6 L1976.4,358.3 L1979.1,354.3 L1980.0,353.0 L1981.3,357.2 L1982.6,363.0 L1983.0,376.2 L1983.8,377.9 L1984.6,370.4 L1985.5,376.2 L1986.7,384.5 L1987.9,386.1 L1989.2,381.2 L1990.4,378.7 L1991.6,383.7 L1992.9,379.5 L1994.1,371.3 L1995.3,372.9 L1996.6,379.5 L1997.8,382.0 L1999.5,377.9 L2000.3,386.1 L2001.1,395.2 L2002.4,394.4 L2003.6,392.7 L2004.8,387.8 L2006.1,387.0 L2006.9,394.4 L2007.7,400.2 L2008.6,407.6 L2010.2,410.9 L2011.5,414.2 L2012.3,417.5 L2013.1,427.4 L2014.8,431.5 L2016.0,429.1 L2017.2,422.5 L2018.0,416.7 L2019.3,415.9 L2020.5,420.8 L2021.8,427.4 L2022.6,416.7 L2023.4,411.7 L2024.7,418.3 L2025.5,420.0 L2026.7,417.5 L2028.0,413.0 L2029.6,413.4 L2030.8,417.5 L2032.1,422.5 L2032.8,425.8" fill="none" stroke="#000" stroke-width="3.9" stroke-linejoin="round" stroke-linecap="round"/>
<text x="57" y="1223" font-size="28.5" fill="#7a7a7a">© 2025 Glassnode. All Rights Reserved.</text>
<use href="#logo" transform="translate(1938.4,1231.7)" fill="none" stroke="#1a1a1a"/>
<text x="56.3" y="1372.8" font-size="44.9" fill="#000" textLength="1120.0" lengthAdjust="spacingAndGlyphs">BTC: Supply Held by Entities with Balance &gt; 100k [BTC]</text>
<circle cx="73.7" cy="1433.8" r="5.7" fill="#f7931a"/>
<text x="84.8" y="1440" font-size="17.6" fill="#222" textLength="430" lengthAdjust="spacingAndGlyphs">BTC: Supply Held by Entities with Balance &gt; 100k [BTC]</text>
<circle cx="561.3" cy="1433.8" r="5.7" fill="#000"/>
<text x="572.6999999999999" y="1440" font-size="17.6" fill="#222" textLength="132" lengthAdjust="spacingAndGlyphs">BTC: Price [USD]</text>
<use href="#logo" transform="translate(636,1976) scale(3.64)" fill="none" stroke="#ededed"/>
<line x1="240" x2="2031.5" y1="1570.4" y2="1570.4" stroke="#f0f0f0" stroke-width="1.5"/>
<text x="211.5" y="1576.3" font-size="21.5" fill="#424242" text-anchor="end">6.2M</text>
<line x1="240" x2="2031.5" y1="1630.5" y2="1630.5" stroke="#f0f0f0" stroke-width="1.5"/>
<text x="211.5" y="1636.4" font-size="21.5" fill="#424242" text-anchor="end">6M</text>
<line x1="240" x2="2031.5" y1="1690.6" y2="1690.6" stroke="#f0f0f0" stroke-width="1.5"/>
<text x="211.5" y="1696.5" font-size="21.5" fill="#424242" text-anchor="end">5.8M</text>
<line x1="240" x2="2031.5" y1="1750.6" y2="1750.6" stroke="#f0f0f0" stroke-width="1.5"/>
<text x="211.5" y="1756.5" font-size="21.5" fill="#424242" text-anchor="end">5.6M</text>
<line x1="240" x2="2031.5" y1="1810.7" y2="1810.7" stroke="#f0f0f0" stroke-width="1.5"/>
<text x="211.5" y="1816.6" font-size="21.5" fill="#424242" text-anchor="end">5.4M</text>
<line x1="240" x2="2031.5" y1="1870.8" y2="1870.8" stroke="#f0f0f0" stroke-width="1.5"/>
<text x="211.5" y="1876.7" font-size="21.5" fill="#424242" text-anchor="end">5.2M</text>
<line x1="240" x2="2031.5" y1="1930.9" y2="1930.9" stroke="#f0f0f0" stroke-width="1.5"/>
<text x="211.5" y="1936.8" font-size="21.5" fill="#424242" text-anchor="end">5M</text>
<line x1="240" x2="2031.5" y1="1991.0" y2="1991.0" stroke="#f0f0f0" stroke-width="1.5"/>
<text x="211.5" y="1996.9" font-size="21.5" fill="#424242" text-anchor="end">4.8M</text>
<line x1="240" x2="2031.5" y1="2051.0" y2="2051.0" stroke="#f0f0f0" stroke-width="1.5"/>
<text x="211.5" y="2056.9" font-size="21.5" fill="#424242" text-anchor="end">4.6M</text>
<line x1="240" x2="2031.5" y1="2111.1" y2="2111.1" stroke="#f0f0f0" stroke-width="1.5"/>
<text x="211.5" y="2117.0" font-size="21.5" fill="#424242" text-anchor="end">4.4M</text>
<line x1="240" x2="2031.5" y1="2171.2" y2="2171.2" stroke="#f0f0f0" stroke-width="1.5"/>
<text x="211.5" y="2177.1" font-size="21.5" fill="#424242" text-anchor="end">4.2M</text>
<line x1="240" x2="2031.5" y1="2231.3" y2="2231.3" stroke="#f0f0f0" stroke-width="1.5"/>
<text x="211.5" y="2237.2" font-size="21.5" fill="#424242" text-anchor="end">4M</text>
<line x1="240" x2="2031.5" y1="2291.4" y2="2291.4" stroke="#f0f0f0" stroke-width="1.5"/>
<text x="211.5" y="2297.3" font-size="21.5" fill="#424242" text-anchor="end">3.8M</text>
<line x1="240" x2="2031.6" y1="2321.4" y2="2321.4" stroke="#e8e8e8" stroke-width="1.5"/>
<line x1="378.5" x2="378.5" y1="2321.2" y2="2340" stroke="#efefef" stroke-width="1.5"/>
<text x="378.5" y="2367.8" font-size="23" fill="#424242" text-anchor="middle">Jan '20</text>
<line x1="517.0" x2="517.0" y1="2321.2" y2="2340" stroke="#efefef" stroke-width="1.5"/>
<text x="517.0" y="2367.8" font-size="23" fill="#424242" text-anchor="middle">Jul '20</text>
<line x1="656.9" x2="656.9" y1="2321.2" y2="2340" stroke="#efefef" stroke-width="1.5"/>
<text x="656.9" y="2367.8" font-size="23" fill="#424242" text-anchor="middle">Jan '21</text>
<line x1="794.6" x2="794.6" y1="2321.2" y2="2340" stroke="#efefef" stroke-width="1.5"/>
<text x="794.6" y="2367.8" font-size="23" fill="#424242" text-anchor="middle">Jul '21</text>
<line x1="934.6" x2="934.6" y1="2321.2" y2="2340" stroke="#efefef" stroke-width="1.5"/>
<text x="934.6" y="2367.8" font-size="23" fill="#424242" text-anchor="middle">Jan '22</text>
<line x1="1072.3" x2="1072.3" y1="2321.2" y2="2340" stroke="#efefef" stroke-width="1.5"/>
<text x="1072.3" y="2367.8" font-size="23" fill="#424242" text-anchor="middle">Jul '22</text>
<line x1="1212.3" x2="1212.3" y1="2321.2" y2="2340" stroke="#efefef" stroke-width="1.5"/>
<text x="1212.3" y="2367.8" font-size="23" fill="#424242" text-anchor="middle">Jan '23</text>
<line x1="1350.0" x2="1350.0" y1="2321.2" y2="2340" stroke="#efefef" stroke-width="1.5"/>
<text x="1350.0" y="2367.8" font-size="23" fill="#424242" text-anchor="middle">Jul '23</text>
<line x1="1490.0" x2="1490.0" y1="2321.2" y2="2340" stroke="#efefef" stroke-width="1.5"/>
<text x="1490.0" y="2367.8" font-size="23" fill="#424242" text-anchor="middle">Jan '24</text>
<line x1="1628.4" x2="1628.4" y1="2321.2" y2="2340" stroke="#efefef" stroke-width="1.5"/>
<text x="1628.4" y="2367.8" font-size="23" fill="#424242" text-anchor="middle">Jul '24</text>
<line x1="1768.4" x2="1768.4" y1="2321.2" y2="2340" stroke="#efefef" stroke-width="1.5"/>
<text x="1768.4" y="2367.8" font-size="23" fill="#424242" text-anchor="middle">Jan '25</text>
<line x1="1906.1" x2="1906.1" y1="2321.2" y2="2340" stroke="#efefef" stroke-width="1.5"/>
<text x="1906.1" y="2367.8" font-size="23" fill="#424242" text-anchor="middle">Jul '25</text>
<text x="2065.2" y="1546.4" font-size="21.8" fill="#424242">$200k</text>
<text x="2065.2" y="1685.0" font-size="21.8" fill="#424242">$100k</text>
<text x="2065.2" y="1756.3" font-size="21.8" fill="#424242">$70k</text>
<text x="2065.2" y="1823.5" font-size="21.8" fill="#424242">$50k</text>
<text x="2065.2" y="1925.6" font-size="21.8" fill="#424242">$30k</text>
<text x="2065.2" y="2006.7" font-size="21.8" fill="#424242">$20k</text>
<text x="2065.2" y="2145.3" font-size="21.8" fill="#424242">$10k</text>
<text x="2065.2" y="2216.6" font-size="21.8" fill="#424242">$7k</text>
<text x="2065.2" y="2283.8" font-size="21.8" fill="#424242">$5k</text>
<line x1="236.8" x2="236.8" y1="1539.8" y2="2320.6" stroke="#e9a85c" stroke-width="2"/>
<line x1="2041" x2="2041" y1="1539.7" y2="2321" stroke="#141414" stroke-width="2"/>
<path d="M241.9,2263.6 L243.9,2262.3 L245.2,2250.4 L246.6,2249.1 L248.6,2254.3 L250.5,2253.0 L252.5,2251.7 L253.2,2221.3 L255.2,2221.3 L256.5,2224.0 L257.8,2238.5 L259.1,2258.3 L259.8,2212.1 L260.4,2179.1 L261.1,2159.2 L262.4,2154.0 L264.4,2151.3 L265.7,2154.0 L267.0,2165.8 L269.0,2164.5 L271.7,2163.2 L274.3,2163.2 L276.9,2162.6 L279.6,2161.9 L282.2,2159.9 L284.9,2161.9 L286.9,2164.5 L288.2,2160.6 L289.5,2155.9 L291.5,2156.6 L294.1,2155.3 L296.8,2154.0 L299.4,2152.0 L302.0,2143.4 L304.7,2142.7 L308.0,2144.7 L310.6,2146.0 L313.3,2143.4 L315.2,2140.8 L317.9,2138.1 L320.5,2134.2 L323.2,2129.5 L325.8,2126.2 L328.5,2119.6 L329.8,2139.4 L330.4,2161.9 L332.4,2163.2 L334.4,2161.9 L337.0,2161.9 L339.7,2161.9 L343.0,2160.6 L345.6,2159.2 L348.3,2157.9 L350.9,2156.6 L353.6,2157.9 L356.2,2160.6 L359.5,2160.6 L362.8,2159.2 L366.1,2157.3 L369.4,2155.9 L372.7,2154.0 L376.0,2152.7 L378.6,2150.7 L381.3,2148.7 L383.9,2144.7 L386.6,2139.4 L389.2,2135.5 L392.5,2132.8 L395.8,2130.2 L398.5,2125.6 L402.4,2122.3 L406.4,2118.3 L409.7,2114.3 L413.0,2112.4 L415.6,2111.7 L418.3,2113.7 L420.9,2112.4 L423.6,2112.4 L426.2,2111.7 L428.2,2120.9 L430.2,2118.3 L431.5,2106.4 L433.5,2093.2 L435.4,2094.5 L437.4,2103.8 L440.1,2109.1 L443.4,2114.3 L446.0,2117.0 L448.6,2118.3 L451.3,2117.0 L453.3,2115.7 L455.3,2120.9 L457.9,2124.9 L460.5,2124.9 L463.2,2127.6 L466.5,2126.2 L469.8,2123.6 L472.4,2118.3 L475.1,2114.3 L476.0,2113.0 L477.3,2135.5 L479.2,2138.1 L481.9,2135.5 L484.5,2132.8 L487.2,2134.2 L489.8,2135.5 L492.4,2132.8 L494.4,2131.5 L496.4,2135.5 L499.1,2138.1 L501.7,2139.4 L504.3,2140.8 L507.0,2139.4 L509.6,2138.8 L512.3,2136.8 L514.9,2139.4 L517.5,2138.1 L520.2,2136.8 L522.8,2134.2 L525.5,2134.2 L528.1,2135.5 L530.8,2135.5 L533.4,2134.2 L536.0,2127.6 L538.7,2124.9 L541.3,2122.3 L543.3,2123.6 L546.0,2120.9 L547.9,2119.6 L550.6,2122.3 L553.2,2124.9 L555.9,2125.6 L558.5,2126.2 L561.1,2127.6 L563.8,2128.9 L566.4,2130.2 L569.1,2131.5 L571.7,2132.8 L574.4,2135.5 L577.0,2138.1 L579.6,2139.4 L582.3,2140.8 L584.9,2142.1 L586.9,2143.4 L588.9,2151.3 L591.5,2154.0 L593.5,2156.6 L595.5,2151.3 L596.8,2122.3 L598.8,2123.6 L600.8,2128.9 L603.4,2127.6 L606.0,2126.2 L608.7,2124.9 L610.7,2122.3 L612.6,2130.2 L615.3,2120.9 L617.9,2124.9 L620.6,2122.3 L623.2,2118.3 L625.9,2111.7 L628.5,2106.4 L629.8,2103.8 L631.1,2113.0 L633.8,2111.7 L636.4,2110.4 L639.1,2109.1 L641.7,2111.7 L643.0,2098.5 L644.4,2066.8 L646.3,2061.5 L648.3,2058.9 L649.6,2091.9 L651.6,2087.9 L654.3,2085.3 L656.9,2082.7 L659.5,2080.0 L662.2,2077.4 L664.2,2072.1 L666.8,2064.2 L667.5,2032.5 L669.5,2029.8 L672.1,2024.5 L674.7,2019.2 L678.0,2015.3 L681.3,2017.9 L684.0,2016.6 L686.6,2007.4 L689.3,2006.0 L691.9,2003.4 L694.5,2000.8 L697.2,1992.8 L698.5,1963.8 L700.5,1961.1 L702.5,1971.7 L704.5,1959.8 L706.4,1979.6 L708.4,1955.8 L710.0,1954.5 L710.6,1978.1 L713.2,1980.8 L715.9,1975.5 L718.5,1974.2 L719.8,2001.9 L721.1,1951.7 L723.1,1938.5 L725.8,1937.2 L728.4,1937.2 L731.0,1935.9 L732.4,1931.9 L733.7,1951.7 L735.7,1978.1 L737.6,1990.0 L739.6,1988.7 L741.0,1950.4 L742.9,1946.4 L745.6,1943.8 L748.2,1941.1 L750.9,1938.5 L752.8,1937.2 L754.8,1963.6 L756.8,1962.3 L758.8,1951.7 L760.1,1947.8 L761.4,1885.7 L762.7,1883.0 L764.1,1898.9 L766.0,1931.9 L768.7,1935.9 L771.3,1937.2 L774.0,1938.5 L776.6,1938.5 L779.2,1937.2 L781.9,1934.5 L784.5,1931.9 L785.9,1898.9 L787.8,1920.0 L789.8,1922.7 L792.5,1922.7 L793.8,1898.9 L795.8,1896.2 L797.7,1898.9 L799.7,1931.9 L802.4,1933.2 L805.0,1933.9 L807.0,1934.5 L807.6,1924.0 L809.6,1922.7 L812.3,1920.0 L813.6,1917.4 L814.9,1951.7 L816.9,1953.0 L819.5,1953.0 L821.5,1949.1 L824.2,1947.8 L826.8,1949.1 L829.4,1947.8 L832.1,1949.1 L834.7,1945.1 L837.4,1950.4 L840.0,1949.1 L842.0,1947.8 L843.3,1918.7 L845.3,1912.1 L847.9,1913.4 L850.6,1914.7 L853.2,1917.4 L855.9,1914.7 L858.5,1913.4 L861.1,1912.1 L863.8,1913.4 L866.4,1916.0 L868.4,1917.4 L869.7,1950.4 L871.7,1950.4 L873.7,1947.8 L875.7,1949.1 L877.0,1975.5 L879.6,1978.1 L882.3,1978.1 L884.3,1976.8 L886.2,1971.5 L888.2,1910.8 L890.2,1906.8 L892.8,1905.5 L894.8,1901.5 L896.8,1902.8 L899.5,1904.2 L900.8,1938.5 L902.8,1939.8 L904.1,1964.9 L906.0,1962.3 L908.0,1987.4 L910.0,1959.6 L912.0,1987.4 L914.0,1958.3 L916.0,1926.6 L917.9,1925.3 L920.6,1926.6 L921.9,1926.6 L923.2,1984.7 L925.9,1983.4 L928.5,1979.5 L931.1,1975.5 L932.5,1950.4 L934.5,1949.1 L937.1,1947.8 L940.0,1946.4 L940.6,1946.4 L942.5,1945.1 L943.9,1976.8 L946.5,1974.2 L948.5,1943.8 L949.8,1942.5 L951.1,1972.8 L954.4,1974.2 L957.7,1974.2 L958.4,1925.3 L961.7,1925.3 L964.3,1926.6 L967.0,1927.9 L968.3,1929.2 L969.0,1894.9 L971.6,1892.3 L974.2,1893.6 L976.9,1891.0 L979.5,1889.6 L982.2,1888.3 L984.8,1889.6 L986.8,1894.9 L988.8,1893.6 L991.4,1892.3 L994.7,1891.0 L997.4,1889.6 L998.7,1876.4 L1001.3,1877.7 L1004.0,1880.4 L1006.6,1881.7 L1009.2,1883.0 L1011.9,1885.7 L1014.5,1883.0 L1017.2,1883.0 L1019.8,1881.7 L1022.5,1883.0 L1025.1,1885.7 L1027.7,1883.0 L1029.7,1909.4 L1031.7,1904.2 L1032.4,1856.6 L1034.3,1856.6 L1035.7,1902.8 L1037.7,1904.2 L1039.0,1856.6 L1040.3,1843.4 L1041.6,1843.4 L1042.3,1871.1 L1044.2,1869.8 L1046.2,1865.8 L1048.2,1864.5 L1048.9,1832.8 L1050.9,1832.8 L1052.8,1867.2 L1054.8,1832.8 L1056.8,1831.5 L1058.8,1830.2 L1060.1,1828.9 L1061.4,1830.2 L1062.7,1848.7 L1064.7,1851.3 L1067.4,1847.4 L1069.3,1843.4 L1072.0,1846.0 L1074.0,1847.4 L1076.0,1848.7 L1077.9,1854.0 L1080.6,1857.9 L1083.2,1860.6 L1084.5,1859.2 L1085.9,1898.9 L1087.2,1863.2 L1089.8,1864.5 L1092.5,1861.9 L1095.1,1861.2 L1097.8,1860.6 L1100.4,1859.2 L1102.4,1854.0 L1104.3,1854.0 L1107.0,1855.3 L1109.6,1857.9 L1112.3,1860.6 L1114.9,1861.9 L1117.6,1859.2 L1120.2,1855.3 L1122.8,1852.7 L1125.5,1850.0 L1128.1,1847.4 L1130.8,1846.0 L1133.4,1844.7 L1136.0,1842.1 L1138.7,1838.1 L1140.7,1834.2 L1143.3,1835.5 L1146.0,1838.1 L1148.6,1836.8 L1151.2,1838.1 L1153.9,1840.8 L1156.5,1842.1 L1159.2,1840.8 L1162.5,1839.4 L1165.1,1836.8 L1167.8,1831.5 L1169.1,1823.6 L1170.0,1822.3 L1171.2,1821.0 L1173.2,1830.2 L1174.5,1842.1 L1176.5,1859.2 L1177.8,1864.5 L1179.8,1868.5 L1181.1,1875.1 L1182.5,1887.0 L1184.4,1891.0 L1186.4,1893.6 L1189.1,1894.9 L1191.7,1897.5 L1193.7,1901.5 L1195.7,1904.2 L1197.0,1912.1 L1199.0,1922.7 L1201.0,1926.6 L1202.9,1924.0 L1204.9,1920.0 L1207.5,1917.4 L1210.2,1914.7 L1212.8,1914.7 L1215.5,1914.7 L1218.1,1913.4 L1220.8,1913.4 L1223.4,1914.7 L1226.0,1914.7 L1228.7,1914.7 L1231.3,1914.7 L1234.0,1916.0 L1236.6,1916.0 L1239.2,1916.0 L1241.9,1914.7 L1244.5,1914.7 L1247.2,1912.1 L1249.8,1912.1 L1252.5,1912.1 L1254.4,1913.4 L1256.4,1916.0 L1259.1,1918.7 L1261.7,1922.7 L1263.7,1929.2 L1265.7,1927.9 L1267.7,1920.0 L1270.3,1910.8 L1272.9,1912.1 L1275.6,1913.4 L1278.2,1914.7 L1280.9,1914.7 L1282.2,1947.8 L1284.8,1949.1 L1286.8,1947.8 L1287.5,1904.2 L1290.1,1902.8 L1292.7,1902.8 L1295.4,1901.5 L1298.0,1900.2 L1300.7,1898.9 L1303.3,1898.9 L1306.0,1900.2 L1308.6,1902.8 L1311.2,1901.5 L1313.9,1897.5 L1316.5,1893.6 L1319.2,1891.0 L1321.8,1889.6 L1324.4,1888.3 L1327.1,1885.7 L1329.7,1885.7 L1331.7,1892.3 L1333.0,1897.5 L1335.7,1898.9 L1338.3,1900.2 L1341.0,1900.2 L1343.6,1901.5 L1346.2,1904.2 L1348.9,1906.8 L1351.5,1908.1 L1354.2,1908.1 L1356.8,1910.8 L1358.1,1941.1 L1360.1,1941.1 L1361.4,1909.4 L1364.1,1909.4 L1366.0,1909.4 L1368.0,1909.4 L1369.3,1910.8 L1370.0,1939.8 L1372.7,1939.8 L1375.3,1939.8 L1377.9,1941.1 L1380.6,1941.1 L1383.2,1942.5 L1385.9,1942.5 L1387.8,1946.4 L1389.2,1976.8 L1391.8,1976.8 L1394.5,1976.8 L1397.1,1976.8 L1399.1,1975.5 L1400.0,1975.5 L1400.6,1976.8 L1401.2,1950.4 L1403.2,1947.8 L1405.8,1946.4 L1409.8,1946.4 L1413.1,1947.8 L1416.4,1947.8 L1419.7,1947.8 L1423.0,1949.1 L1427.0,1946.4 L1431.0,1945.1 L1434.9,1943.8 L1438.9,1942.5 L1442.8,1942.5 L1446.8,1941.1 L1450.8,1935.9 L1454.7,1933.2 L1457.4,1934.5 L1460.0,1938.5 L1463.3,1942.5 L1466.6,1943.8 L1469.2,1938.5 L1471.9,1933.2 L1474.5,1929.2 L1477.8,1927.9 L1481.1,1926.6 L1484.4,1929.2 L1487.7,1927.9 L1491.0,1926.6 L1494.3,1924.0 L1497.0,1918.7 L1499.0,1916.0 L1501.0,1918.7 L1502.3,1891.0 L1504.2,1893.6 L1506.2,1896.2 L1508.2,1901.5 L1509.5,1906.8 L1510.9,1947.8 L1512.2,1912.1 L1513.5,1910.8 L1515.5,1918.7 L1518.8,1921.3 L1522.1,1924.0 L1523.4,1897.5 L1525.4,1897.5 L1527.4,1898.9 L1528.7,1927.9 L1531.3,1927.9 L1534.0,1925.3 L1536.6,1922.7 L1539.2,1921.3 L1541.9,1918.7 L1544.5,1917.4 L1547.2,1917.4 L1549.8,1916.0 L1551.8,1924.0 L1553.8,1924.0 L1554.4,1896.2 L1556.4,1900.2 L1559.1,1900.2 L1561.7,1900.2 L1564.3,1898.9 L1567.0,1900.2 L1569.6,1900.2 L1572.3,1901.5 L1574.9,1900.2 L1577.6,1898.9 L1580.2,1897.5 L1582.8,1896.2 L1585.5,1896.2 L1588.1,1897.5 L1590.8,1897.5 L1593.4,1898.9 L1595.4,1901.5 L1597.4,1897.5 L1600.0,1894.9 L1602.7,1893.6 L1605.3,1892.3 L1607.9,1893.6 L1610.6,1894.9 L1613.2,1896.2 L1615.2,1897.5 L1617.2,1896.2 L1619.8,1893.6 L1621.2,1880.4 L1622.5,1877.7 L1623.8,1867.2 L1626.4,1865.8 L1628.4,1864.5 L1629.1,1856.6 L1630.0,1855.3 L1630.6,1856.4 L1633.2,1849.8 L1635.8,1847.2 L1639.2,1847.2 L1639.8,1868.3 L1641.8,1868.3 L1643.8,1861.7 L1646.4,1860.4 L1649.1,1861.7 L1652.4,1860.4 L1655.0,1857.8 L1657.6,1859.1 L1660.3,1860.4 L1662.9,1863.0 L1665.6,1861.7 L1668.2,1860.4 L1670.8,1859.1 L1673.5,1860.4 L1676.8,1860.4 L1679.4,1860.4 L1681.4,1861.7 L1683.4,1865.7 L1686.0,1867.0 L1688.7,1865.7 L1691.3,1864.3 L1694.0,1864.3 L1696.6,1863.0 L1699.2,1863.0 L1701.9,1861.7 L1702.5,1844.5 L1703.9,1811.5 L1705.2,1797.0 L1707.2,1791.7 L1709.8,1790.4 L1712.5,1789.1 L1715.1,1786.4 L1717.7,1783.8 L1719.7,1779.8 L1721.7,1775.9 L1724.3,1773.2 L1727.0,1774.5 L1729.0,1767.9 L1730.3,1758.7 L1732.3,1752.1 L1734.9,1750.8 L1736.9,1754.7 L1738.2,1742.8 L1739.5,1732.3 L1741.5,1728.3 L1743.5,1729.6 L1745.5,1732.3 L1746.8,1723.0 L1748.8,1719.1 L1750.8,1715.1 L1752.1,1707.2 L1754.7,1704.5 L1757.4,1703.2 L1760.0,1700.6 L1762.7,1697.9 L1765.3,1697.9 L1767.9,1700.6 L1770.6,1700.6 L1773.9,1699.2 L1775.9,1686.0 L1778.5,1682.1 L1781.1,1678.1 L1783.8,1675.5 L1786.4,1674.2 L1789.1,1672.8 L1791.7,1670.2 L1794.3,1668.9 L1797.0,1666.2 L1799.6,1664.9 L1802.3,1662.3 L1804.9,1659.6 L1807.6,1657.0 L1810.2,1655.7 L1812.8,1657.0 L1815.5,1659.6 L1818.1,1658.3 L1820.8,1649.1 L1823.4,1647.7 L1826.0,1649.1 L1828.7,1649.1 L1830.7,1651.7 L1832.7,1647.7 L1834.6,1639.8 L1836.6,1638.5 L1839.3,1639.8 L1841.9,1638.5 L1844.5,1638.5 L1847.2,1639.8 L1850.5,1641.1 L1852.5,1639.8 L1855.1,1637.2 L1857.8,1633.2 L1859.1,1627.9 L1860.0,1624.0 L1860.5,1624.8 L1862.5,1623.8 L1865.7,1622.7 L1868.3,1622.7 L1870.9,1619.6 L1873.0,1616.5 L1875.1,1611.2 L1877.7,1612.3 L1880.3,1611.2 L1882.4,1613.3 L1883.5,1620.7 L1885.5,1624.8 L1888.2,1625.9 L1890.3,1623.8 L1892.9,1621.7 L1895.0,1619.6 L1897.1,1615.4 L1899.7,1616.5 L1902.3,1618.6 L1904.9,1619.6 L1907.5,1618.6 L1910.1,1616.5 L1912.7,1614.4 L1914.3,1611.2 L1915.4,1602.9 L1918.0,1600.8 L1920.6,1600.8 L1922.2,1598.7 L1923.2,1592.4 L1925.8,1591.4 L1928.4,1589.3 L1930.5,1591.4 L1932.6,1594.5 L1934.7,1595.5 L1936.8,1593.5 L1938.9,1594.5 L1941.0,1595.5 L1943.6,1594.5 L1946.2,1593.5 L1948.8,1592.4 L1951.4,1590.3 L1953.5,1588.2 L1955.1,1583.0 L1957.7,1582.0 L1960.3,1582.0 L1962.9,1581.4 L1964.5,1580.9 L1966.1,1582.0 L1968.2,1585.1 L1970.3,1588.2 L1972.9,1590.3 L1975.5,1589.3 L1978.1,1585.1 L1980.7,1583.0 L1983.3,1584.0 L1985.4,1586.1 L1987.5,1588.2 L1990.1,1588.2 L1992.7,1589.3 L1994.8,1591.4 L1996.4,1593.5 L1998.5,1596.6 L2000.6,1597.7 L2002.7,1597.7 L2004.8,1597.7 L2007.4,1597.7 L2010.0,1597.7 L2012.1,1597.7 L2013.7,1602.9 L2015.7,1609.2 L2017.3,1610.2 L2018.4,1617.5 L2019.9,1622.7 L2022.0,1623.8 L2023.1,1633.2 L2024.1,1651.0 L2025.7,1653.1 L2027.2,1656.2 L2028.3,1664.6 L2029.3,1675.0 L2030.9,1679.2 L2032.5,1678.2" fill="none" stroke="#f7931a" stroke-width="3.6" stroke-linejoin="round" stroke-linecap="round"/>
<path d="M241.9,2117.6 L243.9,2093.8 L245.5,2092.4 L246.6,2103.0 L248.2,2105.7 L249.2,2129.4 L249.9,2147.9 L251.2,2138.7 L252.5,2124.2 L253.8,2124.2 L255.8,2136.0 L257.1,2141.3 L258.4,2147.9 L260.4,2146.6 L262.4,2130.8 L264.4,2114.9 L265.7,2104.3 L267.7,2102.4 L269.7,2108.3 L271.0,2113.6 L272.3,2137.4 L274.3,2132.1 L275.6,2120.2 L276.9,2122.8 L278.3,2134.7 L280.2,2130.8 L281.6,2132.1 L283.6,2147.9 L285.5,2144.0 L287.5,2126.8 L289.5,2126.8 L292.8,2134.7 L294.8,2130.1 L298.1,2132.1 L301.4,2134.7 L302.7,2140.0 L303.4,2162.5 L304.0,2178.3 L306.0,2179.6 L309.3,2174.3 L312.6,2182.3 L315.2,2167.7 L317.2,2174.3 L319.2,2175.7 L321.9,2182.3 L323.8,2177.0 L325.2,2195.5 L326.5,2182.3 L328.5,2147.9 L330.4,2151.9 L332.4,2153.2 L334.4,2149.9 L336.4,2153.2 L338.4,2162.5 L340.4,2161.1 L342.3,2165.1 L344.3,2169.1 L346.3,2177.0 L347.6,2188.9 L349.6,2207.4 L351.6,2200.8 L353.6,2188.9 L355.5,2195.5 L356.9,2202.1 L359.5,2194.2 L361.5,2195.5 L363.5,2202.1 L366.1,2203.4 L367.4,2220.6 L368.7,2203.4 L370.7,2195.5 L372.7,2202.1 L374.7,2200.8 L376.7,2198.1 L379.3,2208.7 L381.3,2196.8 L383.3,2178.3 L385.2,2184.9 L387.2,2179.6 L389.2,2162.5 L391.9,2161.1 L393.8,2165.1 L396.5,2173.0 L398.5,2151.9 L400.4,2147.9 L402.4,2151.9 L404.4,2154.5 L405.7,2146.6 L407.7,2137.4 L410.4,2132.1 L413.0,2134.7 L415.0,2142.7 L416.9,2140.0 L418.9,2144.0 L420.3,2144.0 L422.2,2159.8 L424.2,2167.7 L426.2,2162.5 L428.2,2157.2 L429.5,2165.1 L430.2,2182.3 L431.5,2184.9 L432.8,2186.2 L433.1,2215.3 L433.5,2254.9 L432.8,2281.3 L434.1,2278.7 L435.4,2276.1 L437.4,2265.5 L438.1,2235.1 L439.4,2244.3 L441.4,2217.9 L443.4,2217.9 L446.0,2241.7 L447.3,2228.5 L449.3,2215.3 L452.6,2200.8 L454.6,2210.0 L456.6,2211.3 L458.6,2219.2 L460.5,2202.1 L463.2,2212.7 L464.5,2208.7 L466.5,2195.5 L468.5,2186.2 L469.1,2163.8 L471.1,2159.8 L475.8,2139.5 L478.3,2167.8 L480.8,2144.5 L485.0,2144.5 L488.3,2162.8 L490.8,2151.1 L494.1,2134.5 L496.6,2144.5 L500.8,2141.2 L502.4,2151.1 L506.6,2152.8 L509.9,2145.3 L513.2,2157.8 L517.4,2157.0 L522.4,2150.3 L526.5,2154.5 L530.7,2156.1 L533.2,2147.8 L535.7,2144.5 L537.4,2117.9 L539.9,2106.2 L543.2,2116.2 L546.5,2106.2 L549.0,2111.2 L552.3,2097.9 L556.5,2106.2 L560.6,2112.9 L564.0,2101.2 L565.6,2131.2 L569.0,2134.5 L573.1,2132.0 L577.3,2117.9 L580.6,2132.8 L583.1,2122.9 L586.4,2124.5 L589.8,2127.0 L592.2,2124.5 L595.6,2109.6 L598.1,2112.9 L600.6,2111.2 L602.2,2087.9 L604.7,2084.6 L607.2,2076.3 L610.5,2076.3 L612.2,2066.3 L613.0,2049.7 L615.5,2058.0 L618.9,2041.4 L621.4,2043.0 L623.9,2023.1 L625.5,2013.1 L628.0,2009.8 L629.7,2031.4 L632.2,2004.8 L634.7,2004.8 L638.0,2013.1 L641.3,2019.8 L643.8,2006.4 L645.5,1974.8 L647.1,1968.2 L649.6,1964.9 L652.1,1949.9 L654.6,1941.6 L657.2,1921.7 L659.1,1905.9 L660.5,1888.7 L661.8,1862.3 L663.1,1858.3 L665.1,1894.0 L667.1,1866.2 L669.1,1882.1 L671.0,1879.4 L672.4,1912.5 L674.3,1899.2 L677.0,1915.1 L678.3,1896.6 L680.3,1892.7 L681.6,1882.1 L683.6,1872.8 L685.6,1866.2 L686.2,1833.2 L688.9,1826.6 L691.5,1821.3 L692.8,1809.4 L694.1,1796.2 L696.1,1788.3 L697.5,1809.4 L699.4,1824.0 L701.4,1835.8 L703.4,1821.3 L705.4,1817.4 L707.4,1802.8 L709.3,1791.0 L711.3,1776.4 L713.3,1793.6 L715.3,1785.7 L717.9,1793.6 L719.9,1809.4 L721.9,1793.6 L724.5,1783.0 L726.5,1783.0 L728.5,1787.0 L730.5,1792.3 L732.5,1781.7 L735.1,1768.5 L737.1,1775.1 L739.1,1792.3 L741.7,1806.8 L744.4,1820.0 L745.7,1800.2 L748.3,1788.3 L750.3,1802.8 L752.3,1792.3 L753.6,1785.0 L755.6,1796.2 L757.5,1817.4 L759.5,1826.6 L760.9,1843.8 L762.8,1859.6 L763.5,1876.8 L765.5,1887.4 L766.8,1866.2 L768.8,1888.7 L770.8,1875.5 L772.7,1866.2 L774.7,1876.8 L776.7,1895.3 L778.7,1875.5 L780.7,1880.8 L782.0,1859.6 L784.0,1872.8 L786.0,1888.7 L787.3,1907.2 L789.2,1905.9 L791.2,1890.0 L793.2,1883.4 L794.5,1899.2 L796.5,1887.4 L798.5,1897.9 L800.5,1895.3 L802.5,1894.0 L805.1,1903.2 L807.1,1908.5 L809.1,1919.1 L810.4,1903.2 L812.4,1888.7 L814.4,1875.5 L817.0,1854.3 L819.6,1868.9 L821.6,1849.1 L823.6,1835.8 L826.2,1829.2 L827.6,1826.6 L830.2,1837.2 L832.2,1827.9 L834.2,1820.0 L836.1,1820.0 L838.1,1827.9 L840.8,1825.3 L843.4,1820.0 L845.4,1806.8 L847.4,1829.2 L849.4,1837.2 L851.3,1834.5 L853.3,1825.3 L855.3,1824.0 L856.6,1857.0 L858.6,1842.5 L860.6,1838.5 L862.6,1854.3 L864.5,1825.3 L867.2,1818.7 L869.2,1798.9 L871.8,1792.3 L873.8,1784.3 L876.4,1776.4 L879.2,1761.1 L881.2,1774.3 L883.2,1771.7 L884.5,1783.6 L886.5,1774.3 L889.1,1771.7 L891.1,1775.7 L892.5,1767.7 L894.0,1756.5 L896.4,1763.8 L898.4,1765.1 L899.7,1778.3 L901.0,1788.9 L903.0,1782.3 L905.0,1787.5 L907.0,1800.8 L909.0,1788.9 L911.0,1791.5 L912.3,1799.4 L912.9,1819.2 L914.9,1815.3 L916.9,1825.8 L918.9,1817.9 L920.9,1825.8 L922.8,1831.1 L925.5,1823.2 L928.8,1814.0 L930.8,1817.9 L932.7,1829.8 L935.4,1828.5 L937.4,1839.1 L939.3,1853.6 L941.3,1849.6 L942.6,1843.0 L944.6,1847.0 L946.6,1848.3 L948.6,1856.2 L949.2,1872.1 L950.6,1886.6 L952.5,1876.0 L955.2,1872.1 L957.8,1868.1 L959.8,1877.4 L961.1,1856.2 L962.5,1844.3 L964.4,1841.7 L966.4,1848.3 L968.4,1840.4 L970.4,1856.2 L972.4,1866.8 L973.7,1876.0 L975.7,1868.1 L977.6,1872.1 L979.6,1841.7 L981.0,1852.3 L982.9,1866.8 L984.2,1870.8 L986.2,1852.3 L987.5,1869.4 L989.5,1872.1 L990.9,1861.5 L992.8,1854.9 L994.8,1853.6 L996.8,1843.0 L998.8,1833.8 L1000.8,1827.8 L1002.7,1832.5 L1005.4,1832.5 L1007.4,1843.0 L1009.4,1849.6 L1010.7,1861.5 L1012.6,1857.5 L1014.6,1858.9 L1016.6,1854.9 L1018.6,1858.9 L1020.6,1861.5 L1021.9,1868.1 L1023.9,1872.1 L1025.9,1870.8 L1027.8,1864.2 L1029.2,1878.7 L1031.1,1891.9 L1032.5,1915.7 L1034.4,1923.6 L1036.4,1910.4 L1038.4,1924.9 L1040.4,1917.0 L1042.4,1918.3 L1044.3,1923.6 L1046.3,1922.3 L1048.3,1907.8 L1050.3,1915.7 L1052.3,1910.4 L1054.3,1914.3 L1055.6,1919.6 L1057.3,1939.2 L1057.9,1976.2 L1059.9,1978.9 L1061.2,2009.2 L1062.5,1993.4 L1064.5,1998.7 L1067.2,1985.5 L1069.8,1998.7 L1073.1,2007.3 L1075.8,1993.4 L1077.7,1982.2 L1079.7,1992.1 L1081.0,2006.6 L1083.0,1990.8 L1085.0,1990.8 L1086.3,1968.3 L1088.3,1969.6 L1090.3,1986.8 L1092.3,1968.3 L1094.2,1964.3 L1096.2,1971.0 L1098.9,1974.9 L1101.5,1967.0 L1104.2,1960.4 L1106.1,1963.0 L1108.8,1972.3 L1110.1,1990.8 L1112.1,1984.2 L1114.1,1998.7 L1116.0,2002.7 L1118.7,2000.0 L1122.0,2002.7 L1124.0,2011.9 L1126.0,1988.1 L1127.9,1977.5 L1129.2,1997.4 L1131.9,2000.0 L1134.5,2014.5 L1136.5,2009.2 L1139.8,2005.3 L1142.5,2007.9 L1144.4,1996.0 L1146.4,2002.7 L1148.4,2009.2 L1151.7,2009.2 L1155.0,2005.3 L1157.7,2007.9 L1159.6,2004.0 L1161.6,1992.1 L1164.2,1990.8 L1166.2,1994.7 L1168.2,1986.8 L1170.2,1994.7 L1171.5,2018.5 L1172.2,2044.9 L1174.2,2029.1 L1176.8,2037.0 L1178.8,2034.3 L1181.4,2046.2 L1183.4,2034.3 L1185.4,2039.6 L1188.0,2030.4 L1190.7,2031.7 L1194.0,2029.1 L1196.6,2029.1 L1198.6,2022.5 L1199.9,2033.0 L1202.6,2038.3 L1204.5,2034.3 L1207.2,2033.0 L1209.8,2037.7 L1212.5,2037.0 L1215.1,2034.3 L1217.8,2030.4 L1219.1,2018.5 L1220.4,2002.7 L1221.7,1989.4 L1224.3,1990.8 L1226.3,1974.9 L1229.6,1972.3 L1232.3,1969.6 L1234.3,1965.7 L1236.9,1968.3 L1238.9,1971.0 L1241.5,1984.2 L1242.8,1982.8 L1244.8,1972.3 L1246.8,1960.4 L1250.1,1956.4 L1252.1,1963.0 L1254.1,1967.0 L1256.0,1969.6 L1258.0,1965.7 L1260.0,1978.9 L1261.3,1982.8 L1262.9,1997.4 L1264.6,1989.4 L1266.0,1961.7 L1267.3,1955.1 L1268.6,1936.6 L1270.6,1931.3 L1273.2,1932.7 L1275.9,1936.6 L1277.8,1930.0 L1280.5,1930.0 L1282.5,1934.0 L1284.5,1932.7 L1286.4,1924.7 L1287.8,1916.8 L1290.0,1914.2 L1291.9,1916.0 L1293.9,1916.0 L1295.2,1937.2 L1297.2,1934.5 L1299.8,1921.3 L1302.5,1922.7 L1303.8,1931.9 L1306.4,1921.3 L1308.4,1929.2 L1311.0,1939.8 L1313.7,1937.2 L1315.7,1937.2 L1318.3,1938.5 L1320.3,1945.1 L1322.3,1938.5 L1324.2,1931.2 L1326.2,1937.2 L1328.2,1938.5 L1329.5,1949.1 L1330.8,1938.5 L1332.8,1943.8 L1334.8,1947.8 L1336.5,1954.3 L1338.8,1946.4 L1340.8,1941.1 L1342.1,1917.4 L1344.1,1914.7 L1346.7,1914.7 L1349.3,1913.4 L1351.3,1910.8 L1353.3,1918.7 L1356.0,1914.7 L1358.6,1908.8 L1359.9,1914.7 L1362.5,1917.4 L1365.2,1918.7 L1367.2,1923.3 L1369.8,1922.7 L1372.5,1921.3 L1375.1,1922.7 L1377.7,1920.7 L1380.4,1921.3 L1383.7,1922.7 L1385.0,1925.3 L1385.7,1946.4 L1388.3,1946.4 L1391.0,1946.4 L1392.9,1943.8 L1394.2,1934.5 L1395.6,1938.5 L1396.2,1949.1 L1398.9,1947.8 L1400.9,1947.8 L1402.8,1946.4 L1404.2,1954.3 L1406.1,1945.1 L1408.1,1941.1 L1410.8,1938.5 L1413.4,1943.8 L1415.4,1945.8 L1418.0,1939.8 L1420.0,1933.2 L1422.7,1931.9 L1425.3,1934.5 L1427.3,1941.1 L1429.2,1941.1 L1430.6,1935.9 L1431.9,1927.9 L1433.9,1922.7 L1435.2,1918.7 L1435.9,1909.4 L1436.5,1894.9 L1438.5,1891.0 L1440.5,1889.6 L1443.1,1885.7 L1445.1,1889.6 L1447.8,1885.7 L1449.1,1875.1 L1451.0,1876.4 L1453.0,1872.5 L1454.3,1883.0 L1456.3,1875.1 L1458.3,1880.4 L1460.3,1875.1 L1462.9,1875.1 L1464.9,1872.5 L1466.2,1861.9 L1467.6,1847.4 L1468.9,1841.4 L1471.5,1842.1 L1473.5,1855.3 L1475.5,1847.4 L1478.1,1854.0 L1480.1,1846.0 L1482.1,1842.1 L1484.7,1847.4 L1487.4,1850.0 L1490.0,1839.4 L1492.0,1843.4 L1494.0,1830.2 L1496.0,1830.2 L1497.9,1843.4 L1499.3,1848.7 L1501.9,1852.7 L1503.9,1857.9 L1505.2,1863.2 L1507.2,1857.9 L1509.2,1850.0 L1511.2,1847.4 L1513.8,1847.4 L1516.4,1846.0 L1517.8,1835.5 L1520.0,1817.0 L1521.9,1815.7 L1523.2,1809.1 L1526.5,1807.8 L1528.5,1810.4 L1530.5,1813.0 L1531.8,1795.9 L1533.1,1774.7 L1535.1,1770.8 L1537.1,1754.9 L1538.4,1753.6 L1539.7,1766.8 L1541.7,1751.0 L1544.3,1740.4 L1546.3,1753.6 L1547.6,1762.8 L1549.0,1773.4 L1550.3,1753.6 L1551.6,1766.8 L1552.9,1749.6 L1555.6,1747.0 L1558.2,1745.7 L1559.5,1762.8 L1560.8,1756.2 L1562.2,1752.3 L1564.2,1744.3 L1566.8,1749.6 L1568.8,1765.5 L1570.8,1776.0 L1572.7,1766.8 L1574.7,1758.9 L1576.7,1765.5 L1578.7,1768.1 L1580.7,1772.1 L1582.0,1785.3 L1583.3,1766.8 L1585.3,1768.1 L1587.3,1776.0 L1589.2,1777.4 L1591.2,1772.1 L1592.5,1761.5 L1594.5,1756.2 L1595.8,1745.0 L1597.8,1752.3 L1601.1,1752.3 L1603.8,1756.2 L1606.4,1753.6 L1608.4,1746.3 L1611.0,1751.0 L1613.0,1753.6 L1615.0,1760.2 L1617.7,1761.5 L1619.6,1765.5 L1621.6,1768.1 L1622.3,1778.7 L1624.2,1777.4 L1626.2,1778.7 L1627.5,1770.8 L1628.9,1778.7 L1630.2,1789.2 L1632.2,1793.9 L1634.8,1789.2 L1636.8,1784.0 L1638.1,1764.2 L1640.8,1764.2 L1642.7,1754.9 L1644.7,1761.5 L1647.4,1754.9 L1649.3,1756.2 L1652.0,1762.8 L1653.3,1785.3 L1654.6,1800.5 L1656.6,1776.0 L1659.2,1778.7 L1662.6,1786.6 L1664.5,1782.7 L1666.5,1778.7 L1668.5,1766.8 L1669.8,1766.8 L1671.1,1780.0 L1673.8,1782.7 L1675.8,1784.0 L1677.8,1790.6 L1679.1,1801.1 L1681.0,1791.9 L1683.0,1786.6 L1684.3,1778.7 L1686.3,1785.3 L1688.3,1772.1 L1691.0,1768.1 L1693.6,1765.5 L1695.6,1761.5 L1697.6,1776.0 L1699.5,1777.4 L1701.5,1770.8 L1703.5,1774.7 L1704.8,1778.7 L1706.8,1770.8 L1708.1,1757.5 L1710.8,1753.6 L1713.4,1753.6 L1715.4,1758.9 L1717.4,1756.2 L1719.3,1743.0 L1721.3,1748.3 L1723.3,1754.9 L1724.6,1745.7 L1726.0,1732.5 L1727.3,1716.6 L1728.6,1702.1 L1730.6,1698.1 L1731.9,1703.4 L1734.5,1695.5 L1736.5,1681.0 L1738.5,1683.6 L1740.5,1694.2 L1741.8,1686.2 L1744.5,1684.9 L1746.4,1682.3 L1748.4,1677.0 L1750.0,1675.7 L1750.6,1681.9 L1751.9,1684.5 L1753.2,1675.3 L1754.5,1670.0 L1756.5,1666.0 L1757.8,1675.3 L1759.2,1684.5 L1760.5,1689.8 L1762.5,1679.2 L1764.4,1689.8 L1766.4,1693.8 L1768.4,1685.8 L1771.0,1674.0 L1772.4,1684.5 L1773.7,1693.8 L1775.0,1689.8 L1777.0,1689.8 L1778.3,1679.2 L1779.6,1672.7 L1781.6,1668.7 L1782.9,1666.0 L1784.9,1670.0 L1787.5,1670.0 L1790.2,1668.7 L1791.5,1674.0 L1792.8,1675.3 L1794.2,1683.2 L1796.8,1685.8 L1799.4,1684.5 L1802.1,1683.2 L1804.1,1684.5 L1806.0,1681.9 L1807.4,1685.8 L1808.7,1699.1 L1810.0,1712.3 L1812.0,1709.6 L1813.3,1689.8 L1814.6,1709.6 L1816.0,1699.1 L1817.9,1705.7 L1818.6,1725.5 L1820.6,1717.5 L1822.5,1713.6 L1824.5,1716.2 L1826.5,1705.7 L1828.5,1708.3 L1830.5,1705.7 L1832.5,1707.0 L1834.4,1714.9 L1836.4,1711.0 L1838.4,1714.9 L1840.4,1722.8 L1841.7,1732.1 L1843.0,1721.5 L1844.3,1711.0 L1847.0,1712.3 L1849.6,1709.6 L1851.6,1705.7 L1852.3,1691.1 L1854.9,1689.8 L1857.5,1688.5 L1859.5,1684.5 L1861.5,1689.8 L1863.5,1684.5 L1864.8,1671.3 L1866.8,1668.7 L1868.8,1671.3 L1870.8,1671.3 L1872.1,1664.7 L1874.1,1663.4 L1875.0,1655.5 L1876.7,1660.8 L1878.7,1662.1 L1880.7,1670.0 L1882.7,1668.7 L1884.6,1666.0 L1886.0,1675.3 L1887.3,1667.4 L1889.0,1658.1 L1890.6,1664.7 L1893.2,1666.0 L1895.9,1667.4 L1897.8,1675.3 L1899.8,1664.7 L1902.5,1663.4 L1905.1,1667.4 L1907.1,1660.8 L1909.1,1660.8 L1911.0,1662.1 L1912.4,1652.8 L1913.7,1644.9 L1915.7,1641.6 L1918.3,1643.6 L1921.0,1642.3 L1922.9,1643.6 L1925.6,1643.6 L1928.2,1651.5 L1929.5,1654.2 L1931.5,1650.2 L1934.2,1646.2 L1936.8,1642.3 L1938.1,1636.3 L1939.5,1643.6 L1941.4,1646.2 L1942.8,1651.5 L1944.7,1647.5 L1946.0,1655.5 L1948.0,1652.8 L1950.0,1660.8 L1951.3,1662.1 L1953.3,1658.1 L1955.3,1658.1 L1957.3,1656.8 L1959.3,1650.2 L1961.9,1647.5 L1964.5,1646.2 L1966.5,1648.9 L1969.2,1655.5 L1971.2,1660.8 L1973.1,1656.8 L1975.1,1643.6 L1976.4,1638.3 L1979.1,1634.3 L1980.0,1633.0 L1981.3,1637.2 L1982.6,1643.0 L1983.0,1656.2 L1983.8,1657.9 L1984.6,1650.5 L1985.5,1656.2 L1986.7,1664.5 L1987.9,1666.1 L1989.2,1661.2 L1990.4,1658.7 L1991.6,1663.7 L1992.9,1659.5 L1994.1,1651.3 L1995.3,1652.9 L1996.6,1659.5 L1997.8,1662.0 L1999.5,1657.9 L2000.3,1666.1 L2001.1,1675.2 L2002.4,1674.4 L2003.6,1672.7 L2004.8,1667.8 L2006.1,1667.0 L2006.9,1674.4 L2007.7,1680.2 L2008.6,1687.6 L2010.2,1690.9 L2011.5,1694.2 L2012.3,1697.5 L2013.1,1707.4 L2014.8,1711.5 L2016.0,1709.1 L2017.2,1702.5 L2018.0,1696.7 L2019.3,1695.9 L2020.5,1700.8 L2021.8,1707.4 L2022.6,1696.7 L2023.4,1691.7 L2024.7,1698.3 L2025.5,1700.0 L2026.7,1697.5 L2028.0,1693.0 L2029.6,1693.4 L2030.8,1697.5 L2032.1,1702.5 L2032.8,1705.8" fill="none" stroke="#000" stroke-width="3.9" stroke-linejoin="round" stroke-linecap="round"/>
<text x="57" y="2503" font-size="28.5" fill="#7a7a7a">© 2025 Glassnode. All Rights Reserved.</text>
<use href="#logo" transform="translate(1938.4,2511.7)" fill="none" stroke="#1a1a1a"/>
</svg></body></html>
